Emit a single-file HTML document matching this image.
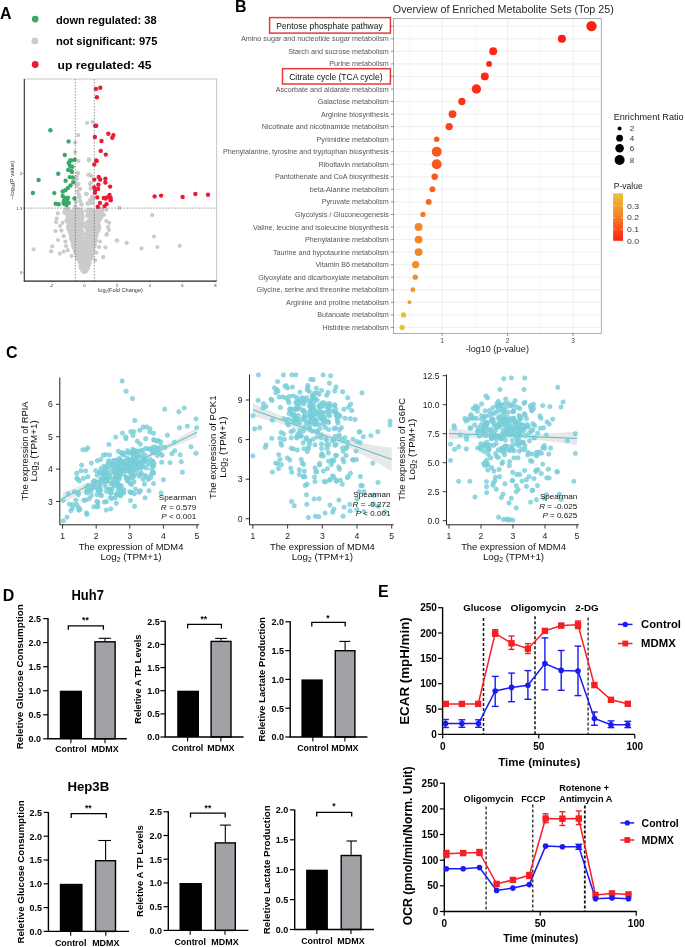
<!DOCTYPE html>
<html><head><meta charset="utf-8"><style>
html,body{margin:0;padding:0;background:#fff;}
svg{display:block;will-change:transform;}
text{font-family:"Liberation Sans",sans-serif;}
</style></head><body>
<svg width="685" height="947" viewBox="0 0 685 947">
<rect x="0" y="0" width="685" height="947" fill="#fff"/>
<text x="0.0" y="18.6" font-size="16" font-weight="bold">A</text>
<circle cx="35.2" cy="19.1" r="3.4" fill="#3ba86a"/>
<circle cx="34.9" cy="40.9" r="3.4" fill="#cbcbcb"/>
<circle cx="35.2" cy="64.5" r="3.4" fill="#ec1b34"/>
<text x="55.9" y="23.5" font-size="11.1" font-weight="bold" textLength="100.7" lengthAdjust="spacingAndGlyphs">down regulated: 38</text>
<text x="55.9" y="45.3" font-size="11.1" font-weight="bold" textLength="101.6" lengthAdjust="spacingAndGlyphs">not significant: 975</text>
<text x="57.6" y="68.8" font-size="11.6" font-weight="bold" textLength="94" lengthAdjust="spacingAndGlyphs">up regulated: 45</text>
<rect x="24.3" y="79.0" width="192.4" height="202.1" fill="none" stroke="#b8b8b8" stroke-width="0.8"/>
<g fill="#cbcbcb"><circle cx="72.6" cy="241.1" r="2.1"/><circle cx="76.0" cy="240.3" r="2.1"/><circle cx="79.6" cy="258.2" r="2.1"/><circle cx="91.4" cy="220.9" r="2.1"/><circle cx="81.0" cy="264.7" r="2.1"/><circle cx="81.3" cy="268.4" r="2.1"/><circle cx="80.3" cy="229.0" r="2.1"/><circle cx="84.5" cy="270.6" r="2.1"/><circle cx="85.1" cy="257.9" r="2.1"/><circle cx="94.7" cy="240.4" r="2.1"/><circle cx="76.5" cy="237.1" r="2.1"/><circle cx="90.3" cy="228.5" r="2.1"/><circle cx="66.1" cy="209.1" r="2.1"/><circle cx="89.9" cy="225.8" r="2.1"/><circle cx="91.6" cy="251.4" r="2.1"/><circle cx="79.0" cy="244.4" r="2.1"/><circle cx="82.6" cy="211.4" r="2.1"/><circle cx="80.4" cy="256.6" r="2.1"/><circle cx="88.3" cy="210.1" r="2.1"/><circle cx="78.7" cy="230.5" r="2.1"/><circle cx="88.9" cy="265.0" r="2.1"/><circle cx="90.4" cy="222.9" r="2.1"/><circle cx="88.6" cy="264.0" r="2.1"/><circle cx="80.9" cy="258.7" r="2.1"/><circle cx="83.3" cy="257.8" r="2.1"/><circle cx="92.0" cy="229.6" r="2.1"/><circle cx="91.7" cy="256.3" r="2.1"/><circle cx="99.4" cy="220.3" r="2.1"/><circle cx="91.0" cy="256.5" r="2.1"/><circle cx="98.6" cy="229.7" r="2.1"/><circle cx="90.5" cy="256.3" r="2.1"/><circle cx="86.1" cy="248.8" r="2.1"/><circle cx="83.2" cy="264.8" r="2.1"/><circle cx="92.1" cy="232.1" r="2.1"/><circle cx="96.7" cy="211.3" r="2.1"/><circle cx="89.4" cy="216.6" r="2.1"/><circle cx="77.2" cy="214.2" r="2.1"/><circle cx="77.4" cy="257.9" r="2.1"/><circle cx="77.6" cy="257.4" r="2.1"/><circle cx="87.5" cy="232.0" r="2.1"/><circle cx="83.7" cy="268.6" r="2.1"/><circle cx="97.5" cy="226.0" r="2.1"/><circle cx="88.5" cy="232.4" r="2.1"/><circle cx="89.9" cy="225.1" r="2.1"/><circle cx="74.6" cy="234.7" r="2.1"/><circle cx="82.0" cy="252.0" r="2.1"/><circle cx="85.8" cy="270.4" r="2.1"/><circle cx="86.3" cy="267.0" r="2.1"/><circle cx="90.8" cy="233.9" r="2.1"/><circle cx="70.3" cy="215.2" r="2.1"/><circle cx="80.4" cy="226.8" r="2.1"/><circle cx="87.3" cy="268.9" r="2.1"/><circle cx="82.7" cy="226.2" r="2.1"/><circle cx="95.7" cy="230.1" r="2.1"/><circle cx="83.2" cy="249.5" r="2.1"/><circle cx="71.3" cy="235.5" r="2.1"/><circle cx="70.0" cy="224.1" r="2.1"/><circle cx="97.9" cy="213.8" r="2.1"/><circle cx="74.2" cy="214.7" r="2.1"/><circle cx="72.7" cy="221.0" r="2.1"/><circle cx="93.8" cy="230.7" r="2.1"/><circle cx="94.3" cy="231.7" r="2.1"/><circle cx="68.0" cy="209.4" r="2.1"/><circle cx="77.1" cy="245.1" r="2.1"/><circle cx="82.5" cy="241.9" r="2.1"/><circle cx="95.2" cy="223.4" r="2.1"/><circle cx="93.6" cy="239.4" r="2.1"/><circle cx="71.9" cy="238.4" r="2.1"/><circle cx="87.7" cy="253.5" r="2.1"/><circle cx="88.8" cy="227.6" r="2.1"/><circle cx="73.8" cy="214.4" r="2.1"/><circle cx="97.4" cy="215.2" r="2.1"/><circle cx="90.5" cy="257.3" r="2.1"/><circle cx="74.7" cy="213.9" r="2.1"/><circle cx="87.9" cy="233.2" r="2.1"/><circle cx="72.7" cy="238.5" r="2.1"/><circle cx="78.0" cy="225.6" r="2.1"/><circle cx="86.8" cy="259.3" r="2.1"/><circle cx="89.6" cy="256.3" r="2.1"/><circle cx="95.1" cy="238.6" r="2.1"/><circle cx="88.4" cy="210.0" r="2.1"/><circle cx="84.5" cy="269.2" r="2.1"/><circle cx="77.5" cy="225.8" r="2.1"/><circle cx="88.8" cy="221.0" r="2.1"/><circle cx="94.5" cy="241.0" r="2.1"/><circle cx="85.4" cy="254.7" r="2.1"/><circle cx="94.4" cy="230.5" r="2.1"/><circle cx="69.0" cy="228.9" r="2.1"/><circle cx="93.0" cy="227.2" r="2.1"/><circle cx="88.1" cy="258.6" r="2.1"/><circle cx="90.5" cy="225.5" r="2.1"/><circle cx="78.2" cy="247.8" r="2.1"/><circle cx="77.0" cy="231.4" r="2.1"/><circle cx="81.0" cy="220.9" r="2.1"/><circle cx="79.5" cy="212.8" r="2.1"/><circle cx="72.7" cy="241.1" r="2.1"/><circle cx="74.3" cy="245.8" r="2.1"/><circle cx="74.3" cy="220.7" r="2.1"/><circle cx="95.7" cy="229.2" r="2.1"/><circle cx="70.2" cy="219.4" r="2.1"/><circle cx="76.6" cy="256.3" r="2.1"/><circle cx="67.1" cy="210.3" r="2.1"/><circle cx="75.5" cy="249.4" r="2.1"/><circle cx="89.7" cy="247.6" r="2.1"/><circle cx="76.3" cy="235.2" r="2.1"/><circle cx="84.4" cy="269.4" r="2.1"/><circle cx="92.0" cy="220.5" r="2.1"/><circle cx="89.0" cy="221.2" r="2.1"/><circle cx="72.5" cy="237.2" r="2.1"/><circle cx="74.9" cy="226.9" r="2.1"/><circle cx="91.0" cy="211.9" r="2.1"/><circle cx="94.4" cy="236.6" r="2.1"/><circle cx="70.7" cy="229.9" r="2.1"/><circle cx="90.9" cy="234.6" r="2.1"/><circle cx="78.4" cy="217.8" r="2.1"/><circle cx="72.9" cy="217.5" r="2.1"/><circle cx="92.8" cy="233.8" r="2.1"/><circle cx="83.2" cy="238.0" r="2.1"/><circle cx="74.0" cy="210.7" r="2.1"/><circle cx="73.9" cy="220.4" r="2.1"/><circle cx="93.9" cy="226.8" r="2.1"/><circle cx="73.2" cy="243.5" r="2.1"/><circle cx="86.3" cy="252.7" r="2.1"/><circle cx="73.1" cy="242.3" r="2.1"/><circle cx="88.1" cy="239.7" r="2.1"/><circle cx="80.9" cy="231.2" r="2.1"/><circle cx="89.7" cy="221.7" r="2.1"/><circle cx="81.3" cy="255.4" r="2.1"/><circle cx="82.6" cy="247.2" r="2.1"/><circle cx="93.9" cy="224.5" r="2.1"/><circle cx="89.4" cy="253.9" r="2.1"/><circle cx="90.3" cy="242.1" r="2.1"/><circle cx="88.6" cy="236.5" r="2.1"/><circle cx="74.9" cy="230.4" r="2.1"/><circle cx="67.6" cy="217.5" r="2.1"/><circle cx="77.4" cy="255.0" r="2.1"/><circle cx="92.3" cy="214.5" r="2.1"/><circle cx="102.4" cy="213.4" r="2.1"/><circle cx="91.0" cy="215.4" r="2.1"/><circle cx="87.9" cy="224.7" r="2.1"/><circle cx="98.5" cy="218.6" r="2.1"/><circle cx="88.6" cy="262.2" r="2.1"/><circle cx="86.2" cy="270.3" r="2.1"/><circle cx="79.9" cy="214.0" r="2.1"/><circle cx="76.6" cy="237.9" r="2.1"/><circle cx="87.3" cy="227.1" r="2.1"/><circle cx="87.6" cy="263.6" r="2.1"/><circle cx="81.2" cy="237.3" r="2.1"/><circle cx="90.4" cy="258.2" r="2.1"/><circle cx="80.0" cy="209.6" r="2.1"/><circle cx="82.5" cy="266.8" r="2.1"/><circle cx="93.6" cy="222.5" r="2.1"/><circle cx="92.9" cy="237.3" r="2.1"/><circle cx="82.8" cy="270.7" r="2.1"/><circle cx="89.8" cy="258.5" r="2.1"/><circle cx="87.4" cy="244.1" r="2.1"/><circle cx="95.9" cy="237.5" r="2.1"/><circle cx="68.2" cy="220.4" r="2.1"/><circle cx="94.1" cy="230.5" r="2.1"/><circle cx="73.1" cy="238.0" r="2.1"/><circle cx="77.5" cy="253.4" r="2.1"/><circle cx="75.4" cy="221.7" r="2.1"/><circle cx="69.6" cy="214.9" r="2.1"/><circle cx="75.5" cy="222.4" r="2.1"/><circle cx="91.5" cy="225.0" r="2.1"/><circle cx="89.9" cy="240.1" r="2.1"/><circle cx="79.2" cy="229.9" r="2.1"/><circle cx="75.3" cy="212.1" r="2.1"/><circle cx="74.6" cy="228.7" r="2.1"/><circle cx="76.4" cy="245.0" r="2.1"/><circle cx="68.0" cy="226.2" r="2.1"/><circle cx="82.6" cy="269.9" r="2.1"/><circle cx="85.5" cy="253.5" r="2.1"/><circle cx="85.7" cy="257.5" r="2.1"/><circle cx="79.2" cy="253.9" r="2.1"/><circle cx="75.8" cy="237.8" r="2.1"/><circle cx="66.6" cy="209.3" r="2.1"/><circle cx="81.0" cy="265.8" r="2.1"/><circle cx="83.9" cy="268.1" r="2.1"/><circle cx="91.4" cy="240.0" r="2.1"/><circle cx="97.7" cy="231.6" r="2.1"/><circle cx="76.5" cy="243.1" r="2.1"/><circle cx="91.8" cy="246.5" r="2.1"/><circle cx="94.7" cy="234.6" r="2.1"/><circle cx="87.6" cy="250.9" r="2.1"/><circle cx="87.1" cy="268.3" r="2.1"/><circle cx="75.3" cy="245.0" r="2.1"/><circle cx="81.1" cy="267.7" r="2.1"/><circle cx="82.5" cy="266.0" r="2.1"/><circle cx="80.1" cy="239.6" r="2.1"/><circle cx="73.7" cy="236.8" r="2.1"/><circle cx="73.5" cy="240.2" r="2.1"/><circle cx="94.1" cy="232.0" r="2.1"/><circle cx="86.3" cy="240.9" r="2.1"/><circle cx="91.4" cy="236.5" r="2.1"/><circle cx="90.1" cy="228.2" r="2.1"/><circle cx="95.6" cy="233.3" r="2.1"/><circle cx="71.0" cy="236.4" r="2.1"/><circle cx="88.2" cy="224.3" r="2.1"/><circle cx="70.8" cy="215.1" r="2.1"/><circle cx="91.9" cy="246.9" r="2.1"/><circle cx="74.3" cy="234.3" r="2.1"/><circle cx="90.4" cy="223.2" r="2.1"/><circle cx="65.7" cy="210.2" r="2.1"/><circle cx="85.7" cy="268.6" r="2.1"/><circle cx="82.3" cy="242.8" r="2.1"/><circle cx="87.1" cy="235.7" r="2.1"/><circle cx="73.0" cy="227.7" r="2.1"/><circle cx="87.7" cy="246.1" r="2.1"/><circle cx="75.2" cy="247.9" r="2.1"/><circle cx="88.1" cy="265.9" r="2.1"/><circle cx="79.6" cy="230.8" r="2.1"/><circle cx="93.9" cy="242.9" r="2.1"/><circle cx="73.4" cy="246.3" r="2.1"/><circle cx="76.4" cy="249.1" r="2.1"/><circle cx="93.3" cy="213.5" r="2.1"/><circle cx="84.1" cy="264.3" r="2.1"/><circle cx="82.1" cy="265.3" r="2.1"/><circle cx="96.7" cy="227.2" r="2.1"/><circle cx="87.6" cy="265.8" r="2.1"/><circle cx="87.9" cy="265.4" r="2.1"/><circle cx="88.5" cy="226.7" r="2.1"/><circle cx="79.6" cy="247.0" r="2.1"/><circle cx="81.1" cy="262.8" r="2.1"/><circle cx="65.9" cy="213.6" r="2.1"/><circle cx="79.6" cy="242.0" r="2.1"/><circle cx="93.3" cy="249.6" r="2.1"/><circle cx="93.0" cy="215.0" r="2.1"/><circle cx="89.5" cy="246.5" r="2.1"/><circle cx="91.2" cy="245.2" r="2.1"/><circle cx="68.6" cy="220.6" r="2.1"/><circle cx="95.1" cy="234.4" r="2.1"/><circle cx="86.9" cy="215.8" r="2.1"/><circle cx="75.7" cy="237.3" r="2.1"/><circle cx="67.0" cy="210.9" r="2.1"/><circle cx="81.2" cy="266.7" r="2.1"/><circle cx="88.0" cy="265.2" r="2.1"/><circle cx="97.0" cy="214.8" r="2.1"/><circle cx="80.2" cy="261.0" r="2.1"/><circle cx="91.0" cy="254.2" r="2.1"/><circle cx="77.8" cy="236.9" r="2.1"/><circle cx="76.8" cy="248.3" r="2.1"/><circle cx="74.2" cy="238.6" r="2.1"/><circle cx="75.9" cy="225.8" r="2.1"/><circle cx="68.0" cy="218.9" r="2.1"/><circle cx="67.8" cy="220.1" r="2.1"/><circle cx="71.9" cy="211.4" r="2.1"/><circle cx="75.7" cy="225.7" r="2.1"/><circle cx="93.2" cy="243.1" r="2.1"/><circle cx="90.2" cy="209.5" r="2.1"/><circle cx="87.2" cy="256.9" r="2.1"/><circle cx="92.6" cy="210.7" r="2.1"/><circle cx="80.0" cy="263.0" r="2.1"/><circle cx="88.1" cy="258.6" r="2.1"/><circle cx="82.7" cy="233.2" r="2.1"/><circle cx="86.0" cy="263.5" r="2.1"/><circle cx="79.0" cy="254.9" r="2.1"/><circle cx="87.3" cy="255.6" r="2.1"/><circle cx="82.0" cy="259.0" r="2.1"/><circle cx="76.4" cy="235.3" r="2.1"/><circle cx="76.1" cy="253.2" r="2.1"/><circle cx="74.2" cy="248.0" r="2.1"/><circle cx="86.3" cy="239.3" r="2.1"/><circle cx="74.4" cy="212.0" r="2.1"/><circle cx="79.3" cy="236.6" r="2.1"/><circle cx="77.0" cy="209.6" r="2.1"/><circle cx="85.5" cy="270.9" r="2.1"/><circle cx="72.1" cy="220.6" r="2.1"/><circle cx="87.0" cy="260.1" r="2.1"/><circle cx="79.3" cy="253.3" r="2.1"/><circle cx="78.7" cy="230.0" r="2.1"/><circle cx="94.9" cy="236.1" r="2.1"/><circle cx="83.5" cy="271.8" r="2.1"/><circle cx="91.1" cy="219.2" r="2.1"/><circle cx="93.4" cy="225.3" r="2.1"/><circle cx="76.0" cy="240.1" r="2.1"/><circle cx="98.8" cy="217.1" r="2.1"/><circle cx="82.5" cy="243.3" r="2.1"/><circle cx="95.1" cy="218.9" r="2.1"/><circle cx="95.4" cy="236.7" r="2.1"/><circle cx="86.0" cy="250.0" r="2.1"/><circle cx="91.5" cy="250.3" r="2.1"/><circle cx="82.6" cy="246.9" r="2.1"/><circle cx="94.8" cy="244.7" r="2.1"/><circle cx="82.6" cy="218.7" r="2.1"/><circle cx="80.9" cy="245.8" r="2.1"/><circle cx="85.9" cy="234.4" r="2.1"/><circle cx="77.6" cy="209.5" r="2.1"/><circle cx="91.3" cy="231.3" r="2.1"/><circle cx="90.2" cy="235.8" r="2.1"/><circle cx="80.6" cy="244.9" r="2.1"/><circle cx="81.6" cy="257.2" r="2.1"/><circle cx="68.6" cy="212.1" r="2.1"/><circle cx="82.9" cy="248.7" r="2.1"/><circle cx="88.8" cy="261.2" r="2.1"/><circle cx="92.3" cy="225.8" r="2.1"/><circle cx="80.7" cy="218.3" r="2.1"/><circle cx="86.1" cy="255.4" r="2.1"/><circle cx="94.6" cy="244.0" r="2.1"/><circle cx="75.9" cy="242.7" r="2.1"/><circle cx="75.8" cy="222.4" r="2.1"/><circle cx="85.4" cy="248.7" r="2.1"/><circle cx="72.9" cy="244.3" r="2.1"/><circle cx="72.1" cy="221.1" r="2.1"/><circle cx="85.6" cy="270.3" r="2.1"/><circle cx="91.5" cy="229.2" r="2.1"/><circle cx="72.7" cy="237.7" r="2.1"/><circle cx="95.8" cy="231.5" r="2.1"/><circle cx="75.4" cy="214.5" r="2.1"/><circle cx="93.9" cy="238.2" r="2.1"/><circle cx="68.3" cy="209.8" r="2.1"/><circle cx="100.6" cy="218.4" r="2.1"/><circle cx="87.3" cy="230.6" r="2.1"/><circle cx="78.1" cy="254.3" r="2.1"/><circle cx="80.0" cy="248.8" r="2.1"/><circle cx="95.9" cy="240.5" r="2.1"/><circle cx="80.9" cy="261.6" r="2.1"/><circle cx="79.2" cy="234.6" r="2.1"/><circle cx="67.5" cy="214.2" r="2.1"/><circle cx="96.3" cy="232.1" r="2.1"/><circle cx="81.5" cy="251.4" r="2.1"/><circle cx="80.3" cy="233.8" r="2.1"/><circle cx="86.2" cy="235.3" r="2.1"/><circle cx="77.6" cy="258.5" r="2.1"/><circle cx="95.2" cy="228.8" r="2.1"/><circle cx="95.0" cy="224.1" r="2.1"/><circle cx="89.9" cy="220.2" r="2.1"/><circle cx="90.2" cy="240.2" r="2.1"/><circle cx="92.6" cy="234.0" r="2.1"/><circle cx="80.9" cy="253.0" r="2.1"/><circle cx="95.0" cy="229.7" r="2.1"/><circle cx="80.4" cy="260.9" r="2.1"/><circle cx="92.7" cy="240.1" r="2.1"/><circle cx="71.2" cy="226.9" r="2.1"/><circle cx="73.0" cy="239.1" r="2.1"/><circle cx="93.8" cy="217.3" r="2.1"/><circle cx="75.6" cy="234.3" r="2.1"/><circle cx="96.2" cy="236.7" r="2.1"/><circle cx="91.8" cy="249.4" r="2.1"/><circle cx="71.2" cy="214.7" r="2.1"/><circle cx="95.2" cy="223.3" r="2.1"/><circle cx="86.7" cy="266.3" r="2.1"/><circle cx="86.4" cy="238.1" r="2.1"/><circle cx="78.7" cy="226.6" r="2.1"/><circle cx="87.6" cy="250.3" r="2.1"/><circle cx="80.4" cy="266.4" r="2.1"/><circle cx="76.1" cy="228.3" r="2.1"/><circle cx="97.7" cy="220.2" r="2.1"/><circle cx="81.7" cy="234.2" r="2.1"/><circle cx="94.8" cy="220.9" r="2.1"/><circle cx="91.4" cy="211.8" r="2.1"/><circle cx="85.8" cy="250.7" r="2.1"/><circle cx="74.6" cy="215.0" r="2.1"/><circle cx="83.4" cy="247.1" r="2.1"/><circle cx="83.6" cy="269.2" r="2.1"/><circle cx="71.2" cy="238.3" r="2.1"/><circle cx="89.3" cy="239.9" r="2.1"/><circle cx="78.2" cy="213.4" r="2.1"/><circle cx="94.2" cy="218.3" r="2.1"/><circle cx="77.5" cy="259.1" r="2.1"/><circle cx="82.7" cy="257.1" r="2.1"/><circle cx="88.6" cy="215.8" r="2.1"/><circle cx="98.7" cy="224.8" r="2.1"/><circle cx="79.7" cy="216.4" r="2.1"/><circle cx="75.5" cy="226.5" r="2.1"/><circle cx="86.2" cy="265.6" r="2.1"/><circle cx="89.2" cy="225.7" r="2.1"/><circle cx="77.5" cy="254.9" r="2.1"/><circle cx="74.3" cy="246.1" r="2.1"/><circle cx="90.1" cy="232.8" r="2.1"/><circle cx="76.6" cy="213.2" r="2.1"/><circle cx="98.5" cy="229.8" r="2.1"/><circle cx="77.0" cy="241.9" r="2.1"/><circle cx="83.5" cy="268.1" r="2.1"/><circle cx="83.4" cy="253.8" r="2.1"/><circle cx="81.5" cy="251.6" r="2.1"/><circle cx="82.1" cy="252.0" r="2.1"/><circle cx="81.8" cy="214.9" r="2.1"/><circle cx="78.4" cy="240.6" r="2.1"/><circle cx="90.2" cy="213.0" r="2.1"/><circle cx="77.9" cy="234.9" r="2.1"/><circle cx="74.8" cy="228.8" r="2.1"/><circle cx="74.4" cy="237.9" r="2.1"/><circle cx="80.8" cy="237.0" r="2.1"/><circle cx="95.6" cy="221.6" r="2.1"/><circle cx="90.9" cy="254.9" r="2.1"/><circle cx="78.2" cy="221.2" r="2.1"/><circle cx="92.5" cy="238.9" r="2.1"/><circle cx="92.7" cy="238.3" r="2.1"/><circle cx="69.2" cy="225.4" r="2.1"/><circle cx="84.9" cy="258.5" r="2.1"/><circle cx="91.1" cy="238.5" r="2.1"/><circle cx="83.5" cy="253.1" r="2.1"/><circle cx="72.0" cy="214.3" r="2.1"/><circle cx="89.0" cy="220.9" r="2.1"/><circle cx="88.3" cy="250.0" r="2.1"/><circle cx="78.8" cy="231.0" r="2.1"/><circle cx="96.1" cy="232.9" r="2.1"/><circle cx="86.0" cy="259.1" r="2.1"/><circle cx="70.7" cy="226.8" r="2.1"/><circle cx="86.2" cy="266.9" r="2.1"/><circle cx="84.0" cy="256.1" r="2.1"/><circle cx="71.3" cy="238.9" r="2.1"/><circle cx="89.2" cy="260.9" r="2.1"/><circle cx="87.4" cy="268.6" r="2.1"/><circle cx="86.7" cy="261.2" r="2.1"/><circle cx="85.9" cy="242.9" r="2.1"/><circle cx="67.9" cy="209.2" r="2.1"/><circle cx="89.3" cy="255.2" r="2.1"/><circle cx="92.0" cy="254.5" r="2.1"/><circle cx="94.4" cy="246.6" r="2.1"/><circle cx="91.6" cy="231.6" r="2.1"/><circle cx="91.1" cy="229.3" r="2.1"/><circle cx="73.4" cy="226.6" r="2.1"/><circle cx="93.4" cy="215.5" r="2.1"/><circle cx="98.5" cy="218.0" r="2.1"/><circle cx="86.5" cy="256.2" r="2.1"/><circle cx="88.7" cy="235.2" r="2.1"/><circle cx="87.4" cy="256.2" r="2.1"/><circle cx="75.3" cy="241.5" r="2.1"/><circle cx="93.1" cy="216.8" r="2.1"/><circle cx="82.8" cy="266.0" r="2.1"/><circle cx="86.9" cy="252.3" r="2.1"/><circle cx="92.3" cy="253.1" r="2.1"/><circle cx="91.8" cy="225.4" r="2.1"/><circle cx="81.8" cy="260.3" r="2.1"/><circle cx="68.0" cy="222.5" r="2.1"/><circle cx="85.7" cy="270.1" r="2.1"/><circle cx="82.8" cy="265.3" r="2.1"/><circle cx="81.7" cy="222.2" r="2.1"/><circle cx="85.9" cy="244.8" r="2.1"/><circle cx="84.3" cy="260.5" r="2.1"/><circle cx="90.2" cy="249.9" r="2.1"/><circle cx="82.7" cy="261.5" r="2.1"/><circle cx="80.1" cy="224.8" r="2.1"/><circle cx="90.0" cy="256.9" r="2.1"/><circle cx="94.1" cy="244.1" r="2.1"/><circle cx="87.8" cy="255.5" r="2.1"/><circle cx="85.1" cy="256.2" r="2.1"/><circle cx="71.2" cy="230.4" r="2.1"/><circle cx="98.3" cy="210.4" r="2.1"/><circle cx="98.0" cy="213.6" r="2.1"/><circle cx="70.0" cy="228.3" r="2.1"/><circle cx="83.4" cy="254.9" r="2.1"/><circle cx="86.3" cy="242.7" r="2.1"/><circle cx="90.6" cy="245.4" r="2.1"/><circle cx="88.7" cy="252.0" r="2.1"/><circle cx="93.2" cy="239.7" r="2.1"/><circle cx="87.9" cy="254.6" r="2.1"/><circle cx="91.8" cy="243.0" r="2.1"/><circle cx="71.8" cy="226.2" r="2.1"/><circle cx="85.7" cy="269.9" r="2.1"/><circle cx="85.0" cy="266.8" r="2.1"/><circle cx="77.1" cy="238.5" r="2.1"/><circle cx="85.5" cy="249.1" r="2.1"/><circle cx="77.7" cy="247.7" r="2.1"/><circle cx="82.3" cy="253.1" r="2.1"/><circle cx="72.0" cy="240.1" r="2.1"/><circle cx="73.9" cy="246.7" r="2.1"/><circle cx="72.1" cy="222.1" r="2.1"/><circle cx="88.7" cy="243.7" r="2.1"/><circle cx="75.4" cy="218.7" r="2.1"/><circle cx="89.3" cy="214.1" r="2.1"/><circle cx="90.3" cy="237.8" r="2.1"/><circle cx="90.6" cy="210.3" r="2.1"/><circle cx="82.1" cy="255.3" r="2.1"/><circle cx="84.1" cy="271.9" r="2.1"/><circle cx="90.1" cy="254.6" r="2.1"/><circle cx="75.4" cy="235.3" r="2.1"/><circle cx="76.2" cy="218.7" r="2.1"/><circle cx="80.3" cy="247.7" r="2.1"/><circle cx="71.8" cy="225.4" r="2.1"/><circle cx="78.7" cy="211.0" r="2.1"/><circle cx="93.6" cy="230.9" r="2.1"/><circle cx="92.6" cy="246.3" r="2.1"/><circle cx="89.1" cy="236.2" r="2.1"/><circle cx="90.1" cy="249.1" r="2.1"/><circle cx="85.2" cy="262.2" r="2.1"/><circle cx="83.8" cy="263.9" r="2.1"/><circle cx="77.4" cy="241.2" r="2.1"/><circle cx="78.5" cy="259.7" r="2.1"/><circle cx="86.6" cy="267.5" r="2.1"/><circle cx="97.2" cy="220.7" r="2.1"/><circle cx="81.0" cy="253.8" r="2.1"/><circle cx="75.4" cy="248.5" r="2.1"/><circle cx="74.8" cy="218.8" r="2.1"/><circle cx="69.9" cy="225.9" r="2.1"/><circle cx="92.6" cy="220.4" r="2.1"/><circle cx="89.0" cy="228.1" r="2.1"/><circle cx="82.6" cy="270.7" r="2.1"/><circle cx="98.5" cy="210.7" r="2.1"/><circle cx="78.7" cy="243.2" r="2.1"/><circle cx="81.3" cy="212.8" r="2.1"/><circle cx="86.9" cy="225.5" r="2.1"/><circle cx="75.0" cy="251.6" r="2.1"/><circle cx="84.9" cy="262.6" r="2.1"/><circle cx="90.7" cy="235.7" r="2.1"/><circle cx="75.8" cy="250.1" r="2.1"/><circle cx="90.5" cy="251.7" r="2.1"/><circle cx="75.8" cy="222.5" r="2.1"/><circle cx="70.5" cy="226.6" r="2.1"/><circle cx="85.6" cy="260.8" r="2.1"/><circle cx="95.2" cy="212.8" r="2.1"/><circle cx="84.9" cy="262.6" r="2.1"/><circle cx="93.7" cy="234.3" r="2.1"/><circle cx="89.3" cy="252.4" r="2.1"/><circle cx="85.9" cy="246.5" r="2.1"/><circle cx="83.1" cy="266.7" r="2.1"/><circle cx="86.9" cy="265.6" r="2.1"/><circle cx="101.4" cy="209.2" r="2.1"/><circle cx="94.7" cy="239.2" r="2.1"/><circle cx="91.2" cy="244.6" r="2.1"/><circle cx="78.4" cy="228.8" r="2.1"/><circle cx="64.3" cy="212.5" r="2.1"/><circle cx="74.8" cy="241.7" r="2.1"/><circle cx="86.1" cy="258.8" r="2.1"/><circle cx="86.9" cy="262.7" r="2.1"/><circle cx="94.1" cy="223.2" r="2.1"/><circle cx="86.4" cy="271.0" r="2.1"/><circle cx="83.0" cy="270.9" r="2.1"/><circle cx="75.4" cy="220.9" r="2.1"/><circle cx="69.6" cy="220.3" r="2.1"/><circle cx="102.4" cy="209.8" r="2.1"/><circle cx="80.5" cy="244.2" r="2.1"/><circle cx="96.3" cy="214.1" r="2.1"/><circle cx="88.0" cy="255.4" r="2.1"/><circle cx="77.0" cy="228.8" r="2.1"/><circle cx="90.2" cy="230.0" r="2.1"/><circle cx="88.5" cy="214.4" r="2.1"/><circle cx="81.5" cy="248.5" r="2.1"/><circle cx="71.6" cy="223.8" r="2.1"/><circle cx="86.0" cy="258.7" r="2.1"/><circle cx="85.3" cy="247.5" r="2.1"/><circle cx="89.8" cy="238.1" r="2.1"/><circle cx="80.2" cy="236.0" r="2.1"/><circle cx="98.6" cy="215.8" r="2.1"/><circle cx="82.0" cy="263.5" r="2.1"/><circle cx="94.1" cy="211.1" r="2.1"/><circle cx="90.5" cy="225.9" r="2.1"/><circle cx="77.5" cy="227.6" r="2.1"/><circle cx="91.2" cy="258.3" r="2.1"/><circle cx="81.8" cy="260.7" r="2.1"/><circle cx="94.4" cy="229.6" r="2.1"/><circle cx="70.8" cy="215.4" r="2.1"/><circle cx="81.7" cy="237.9" r="2.1"/><circle cx="74.1" cy="218.3" r="2.1"/><circle cx="91.7" cy="228.3" r="2.1"/><circle cx="79.3" cy="255.2" r="2.1"/><circle cx="93.2" cy="237.3" r="2.1"/><circle cx="76.2" cy="241.5" r="2.1"/><circle cx="94.9" cy="212.9" r="2.1"/><circle cx="75.5" cy="209.4" r="2.1"/><circle cx="75.8" cy="224.1" r="2.1"/><circle cx="101.6" cy="216.6" r="2.1"/><circle cx="95.1" cy="238.8" r="2.1"/><circle cx="70.7" cy="229.3" r="2.1"/><circle cx="66.4" cy="220.6" r="2.1"/><circle cx="81.5" cy="266.6" r="2.1"/><circle cx="80.0" cy="253.9" r="2.1"/><circle cx="80.4" cy="236.0" r="2.1"/><circle cx="83.4" cy="252.0" r="2.1"/><circle cx="76.2" cy="234.9" r="2.1"/><circle cx="76.9" cy="254.4" r="2.1"/><circle cx="68.0" cy="222.2" r="2.1"/><circle cx="92.4" cy="220.7" r="2.1"/><circle cx="86.6" cy="264.0" r="2.1"/><circle cx="80.0" cy="216.7" r="2.1"/><circle cx="90.4" cy="258.4" r="2.1"/><circle cx="82.0" cy="231.2" r="2.1"/><circle cx="97.8" cy="209.7" r="2.1"/><circle cx="78.4" cy="216.0" r="2.1"/><circle cx="86.2" cy="228.2" r="2.1"/><circle cx="91.2" cy="248.2" r="2.1"/><circle cx="77.6" cy="252.1" r="2.1"/><circle cx="89.5" cy="258.5" r="2.1"/><circle cx="87.1" cy="240.3" r="2.1"/><circle cx="75.0" cy="212.4" r="2.1"/><circle cx="79.0" cy="257.5" r="2.1"/><circle cx="91.2" cy="224.2" r="2.1"/><circle cx="92.1" cy="243.9" r="2.1"/><circle cx="78.5" cy="242.9" r="2.1"/><circle cx="72.3" cy="240.9" r="2.1"/><circle cx="81.1" cy="247.7" r="2.1"/><circle cx="96.5" cy="233.5" r="2.1"/><circle cx="77.6" cy="251.5" r="2.1"/><circle cx="78.5" cy="241.0" r="2.1"/><circle cx="75.0" cy="223.8" r="2.1"/><circle cx="86.0" cy="266.7" r="2.1"/><circle cx="79.7" cy="241.9" r="2.1"/><circle cx="78.6" cy="226.6" r="2.1"/><circle cx="94.5" cy="243.7" r="2.1"/><circle cx="88.0" cy="253.8" r="2.1"/><circle cx="72.1" cy="219.3" r="2.1"/><circle cx="96.4" cy="235.5" r="2.1"/><circle cx="86.6" cy="264.9" r="2.1"/><circle cx="76.8" cy="224.9" r="2.1"/><circle cx="82.1" cy="214.8" r="2.1"/><circle cx="91.2" cy="230.3" r="2.1"/><circle cx="93.1" cy="240.4" r="2.1"/><circle cx="69.5" cy="231.9" r="2.1"/><circle cx="100.8" cy="209.4" r="2.1"/><circle cx="68.5" cy="229.2" r="2.1"/><circle cx="86.5" cy="266.5" r="2.1"/><circle cx="98.8" cy="228.9" r="2.1"/><circle cx="86.1" cy="256.6" r="2.1"/><circle cx="82.7" cy="244.7" r="2.1"/><circle cx="79.9" cy="259.4" r="2.1"/><circle cx="97.8" cy="223.8" r="2.1"/><circle cx="80.6" cy="224.5" r="2.1"/><circle cx="94.9" cy="240.1" r="2.1"/><circle cx="81.9" cy="212.2" r="2.1"/><circle cx="78.0" cy="247.4" r="2.1"/><circle cx="82.6" cy="263.3" r="2.1"/><circle cx="92.5" cy="237.8" r="2.1"/><circle cx="87.8" cy="262.0" r="2.1"/><circle cx="81.4" cy="251.1" r="2.1"/><circle cx="88.1" cy="243.5" r="2.1"/><circle cx="77.7" cy="241.2" r="2.1"/><circle cx="99.5" cy="217.5" r="2.1"/><circle cx="80.7" cy="260.2" r="2.1"/><circle cx="73.9" cy="244.0" r="2.1"/><circle cx="86.9" cy="211.1" r="2.1"/><circle cx="79.5" cy="260.3" r="2.1"/><circle cx="94.0" cy="225.6" r="2.1"/><circle cx="85.6" cy="269.4" r="2.1"/><circle cx="66.3" cy="210.9" r="2.1"/><circle cx="85.1" cy="268.1" r="2.1"/><circle cx="92.3" cy="253.2" r="2.1"/><circle cx="91.3" cy="248.8" r="2.1"/><circle cx="71.8" cy="215.5" r="2.1"/><circle cx="78.0" cy="238.2" r="2.1"/><circle cx="81.3" cy="250.7" r="2.1"/><circle cx="90.2" cy="246.4" r="2.1"/><circle cx="89.9" cy="247.0" r="2.1"/><circle cx="84.3" cy="267.8" r="2.1"/><circle cx="77.7" cy="236.5" r="2.1"/><circle cx="88.0" cy="255.7" r="2.1"/><circle cx="87.6" cy="249.8" r="2.1"/><circle cx="86.3" cy="223.4" r="2.1"/><circle cx="83.9" cy="244.0" r="2.1"/><circle cx="77.5" cy="232.6" r="2.1"/><circle cx="90.2" cy="232.3" r="2.1"/><circle cx="78.1" cy="231.7" r="2.1"/><circle cx="73.7" cy="238.4" r="2.1"/><circle cx="85.8" cy="267.5" r="2.1"/><circle cx="80.0" cy="252.6" r="2.1"/><circle cx="91.6" cy="217.0" r="2.1"/><circle cx="99.1" cy="227.5" r="2.1"/><circle cx="91.9" cy="218.6" r="2.1"/><circle cx="71.3" cy="219.3" r="2.1"/><circle cx="84.4" cy="267.2" r="2.1"/><circle cx="69.8" cy="230.7" r="2.1"/><circle cx="98.0" cy="229.9" r="2.1"/><circle cx="83.0" cy="223.2" r="2.1"/><circle cx="96.1" cy="224.1" r="2.1"/><circle cx="80.5" cy="209.9" r="2.1"/><circle cx="97.5" cy="221.5" r="2.1"/><circle cx="90.0" cy="245.8" r="2.1"/><circle cx="88.7" cy="262.8" r="2.1"/><circle cx="88.1" cy="266.1" r="2.1"/><circle cx="81.0" cy="228.3" r="2.1"/><circle cx="89.7" cy="262.8" r="2.1"/><circle cx="80.0" cy="234.6" r="2.1"/><circle cx="74.1" cy="243.5" r="2.1"/><circle cx="81.5" cy="262.4" r="2.1"/><circle cx="85.9" cy="269.2" r="2.1"/><circle cx="75.0" cy="227.8" r="2.1"/><circle cx="96.8" cy="226.9" r="2.1"/><circle cx="83.5" cy="263.7" r="2.1"/><circle cx="90.7" cy="233.1" r="2.1"/><circle cx="88.7" cy="259.6" r="2.1"/><circle cx="92.7" cy="237.0" r="2.1"/><circle cx="95.8" cy="218.0" r="2.1"/><circle cx="79.0" cy="239.4" r="2.1"/><circle cx="90.3" cy="226.5" r="2.1"/><circle cx="78.2" cy="224.5" r="2.1"/><circle cx="82.8" cy="266.7" r="2.1"/><circle cx="95.1" cy="225.3" r="2.1"/><circle cx="71.0" cy="234.6" r="2.1"/><circle cx="88.5" cy="240.9" r="2.1"/><circle cx="91.2" cy="223.2" r="2.1"/><circle cx="97.5" cy="217.7" r="2.1"/><circle cx="78.2" cy="234.1" r="2.1"/><circle cx="79.3" cy="260.5" r="2.1"/><circle cx="98.2" cy="220.1" r="2.1"/><circle cx="89.0" cy="256.0" r="2.1"/><circle cx="95.8" cy="231.6" r="2.1"/><circle cx="70.5" cy="233.3" r="2.1"/><circle cx="98.8" cy="226.9" r="2.1"/><circle cx="98.1" cy="225.2" r="2.1"/><circle cx="90.3" cy="224.7" r="2.1"/><circle cx="83.9" cy="270.1" r="2.1"/><circle cx="86.5" cy="251.1" r="2.1"/><circle cx="89.3" cy="239.2" r="2.1"/><circle cx="76.1" cy="252.1" r="2.1"/><circle cx="78.6" cy="259.9" r="2.1"/><circle cx="72.5" cy="231.7" r="2.1"/><circle cx="71.3" cy="236.1" r="2.1"/><circle cx="87.3" cy="221.9" r="2.1"/><circle cx="99.6" cy="212.6" r="2.1"/><circle cx="88.1" cy="255.0" r="2.1"/><circle cx="74.3" cy="224.6" r="2.1"/><circle cx="89.1" cy="234.3" r="2.1"/><circle cx="101.9" cy="211.8" r="2.1"/><circle cx="97.9" cy="228.8" r="2.1"/><circle cx="83.8" cy="263.9" r="2.1"/><circle cx="101.4" cy="209.6" r="2.1"/><circle cx="84.3" cy="266.9" r="2.1"/><circle cx="81.7" cy="269.3" r="2.1"/><circle cx="70.8" cy="227.2" r="2.1"/><circle cx="92.2" cy="237.0" r="2.1"/><circle cx="81.5" cy="258.2" r="2.1"/><circle cx="93.8" cy="238.3" r="2.1"/><circle cx="86.5" cy="243.3" r="2.1"/><circle cx="71.5" cy="239.0" r="2.1"/><circle cx="89.9" cy="234.5" r="2.1"/><circle cx="74.5" cy="248.4" r="2.1"/><circle cx="65.0" cy="210.4" r="2.1"/><circle cx="82.3" cy="217.1" r="2.1"/><circle cx="74.6" cy="238.9" r="2.1"/></g>
<circle cx="77.8" cy="172.9" r="2.1" fill="#cbcbcb"/>
<circle cx="76.7" cy="176.6" r="2.1" fill="#cbcbcb"/>
<circle cx="76.4" cy="179.3" r="2.1" fill="#cbcbcb"/>
<circle cx="76.7" cy="183.5" r="2.1" fill="#cbcbcb"/>
<circle cx="76.4" cy="186.1" r="2.1" fill="#cbcbcb"/>
<circle cx="79.9" cy="189.0" r="2.1" fill="#cbcbcb"/>
<circle cx="77.5" cy="191.4" r="2.1" fill="#cbcbcb"/>
<circle cx="78.8" cy="194.6" r="2.1" fill="#cbcbcb"/>
<circle cx="79.4" cy="197.2" r="2.1" fill="#cbcbcb"/>
<circle cx="80.1" cy="200.9" r="2.1" fill="#cbcbcb"/>
<circle cx="81.7" cy="204.6" r="2.1" fill="#cbcbcb"/>
<circle cx="76.2" cy="202.0" r="2.1" fill="#cbcbcb"/>
<circle cx="75.4" cy="206.2" r="2.1" fill="#cbcbcb"/>
<circle cx="88.6" cy="174.8" r="2.1" fill="#cbcbcb"/>
<circle cx="91.2" cy="176.1" r="2.1" fill="#cbcbcb"/>
<circle cx="90.7" cy="183.0" r="2.1" fill="#cbcbcb"/>
<circle cx="90.7" cy="188.2" r="2.1" fill="#cbcbcb"/>
<circle cx="86.2" cy="193.8" r="2.1" fill="#cbcbcb"/>
<circle cx="92.3" cy="196.7" r="2.1" fill="#cbcbcb"/>
<circle cx="90.2" cy="199.8" r="2.1" fill="#cbcbcb"/>
<circle cx="87.5" cy="203.5" r="2.1" fill="#cbcbcb"/>
<circle cx="91.2" cy="203.0" r="2.1" fill="#cbcbcb"/>
<circle cx="92.8" cy="199.3" r="2.1" fill="#cbcbcb"/>
<circle cx="87.2" cy="122.9" r="2.1" fill="#cbcbcb"/>
<circle cx="92.6" cy="122.0" r="2.1" fill="#cbcbcb"/>
<circle cx="78.1" cy="135.1" r="2.1" fill="#cbcbcb"/>
<circle cx="75.2" cy="142.6" r="2.1" fill="#cbcbcb"/>
<circle cx="75.2" cy="152.1" r="2.1" fill="#cbcbcb"/>
<circle cx="88.9" cy="159.4" r="2.1" fill="#cbcbcb"/>
<circle cx="78.4" cy="161.1" r="2.1" fill="#cbcbcb"/>
<circle cx="77.8" cy="172.8" r="2.1" fill="#cbcbcb"/>
<circle cx="88.6" cy="174.7" r="2.1" fill="#cbcbcb"/>
<circle cx="77.6" cy="173.6" r="2.1" fill="#cbcbcb"/>
<circle cx="76.7" cy="178.4" r="2.1" fill="#cbcbcb"/>
<circle cx="76.7" cy="184.5" r="2.1" fill="#cbcbcb"/>
<circle cx="79.7" cy="188.9" r="2.1" fill="#cbcbcb"/>
<circle cx="88.8" cy="160.3" r="2.1" fill="#cbcbcb"/>
<circle cx="90.8" cy="175.5" r="2.1" fill="#cbcbcb"/>
<circle cx="90.8" cy="182.8" r="2.1" fill="#cbcbcb"/>
<circle cx="90.8" cy="188.6" r="2.1" fill="#cbcbcb"/>
<circle cx="86.5" cy="193.9" r="2.1" fill="#cbcbcb"/>
<circle cx="92.6" cy="197.4" r="2.1" fill="#cbcbcb"/>
<circle cx="90.8" cy="200.9" r="2.1" fill="#cbcbcb"/>
<circle cx="87.9" cy="203.2" r="2.1" fill="#cbcbcb"/>
<circle cx="92.6" cy="203.2" r="2.1" fill="#cbcbcb"/>
<circle cx="119.5" cy="207.9" r="2.1" fill="#cbcbcb"/>
<circle cx="78.4" cy="184.0" r="2.1" fill="#cbcbcb"/>
<circle cx="79.9" cy="189.1" r="2.1" fill="#cbcbcb"/>
<circle cx="86.4" cy="194.2" r="2.1" fill="#cbcbcb"/>
<circle cx="79.1" cy="197.1" r="2.1" fill="#cbcbcb"/>
<circle cx="90.0" cy="184.0" r="2.1" fill="#cbcbcb"/>
<circle cx="91.5" cy="188.4" r="2.1" fill="#cbcbcb"/>
<circle cx="88.6" cy="203.7" r="2.1" fill="#cbcbcb"/>
<circle cx="91.5" cy="198.6" r="2.1" fill="#cbcbcb"/>
<circle cx="81.3" cy="204.4" r="2.1" fill="#cbcbcb"/>
<circle cx="55.5" cy="231.0" r="2.1" fill="#cbcbcb"/>
<circle cx="61.4" cy="230.6" r="2.1" fill="#cbcbcb"/>
<circle cx="52.2" cy="246.4" r="2.1" fill="#cbcbcb"/>
<circle cx="51.1" cy="251.4" r="2.1" fill="#cbcbcb"/>
<circle cx="59.8" cy="253.5" r="2.1" fill="#cbcbcb"/>
<circle cx="63.7" cy="251.6" r="2.1" fill="#cbcbcb"/>
<circle cx="67.8" cy="250.2" r="2.1" fill="#cbcbcb"/>
<circle cx="71.6" cy="255.8" r="2.1" fill="#cbcbcb"/>
<circle cx="56.7" cy="218.7" r="2.1" fill="#cbcbcb"/>
<circle cx="56.1" cy="222.2" r="2.1" fill="#cbcbcb"/>
<circle cx="57.8" cy="213.4" r="2.1" fill="#cbcbcb"/>
<circle cx="62.5" cy="222.8" r="2.1" fill="#cbcbcb"/>
<circle cx="63.7" cy="236.2" r="2.1" fill="#cbcbcb"/>
<circle cx="65.4" cy="241.5" r="2.1" fill="#cbcbcb"/>
<circle cx="106.3" cy="209.9" r="2.1" fill="#cbcbcb"/>
<circle cx="106.3" cy="221.0" r="2.1" fill="#cbcbcb"/>
<circle cx="109.2" cy="222.8" r="2.1" fill="#cbcbcb"/>
<circle cx="109.0" cy="230.1" r="2.1" fill="#cbcbcb"/>
<circle cx="106.5" cy="234.7" r="2.1" fill="#cbcbcb"/>
<circle cx="117.2" cy="240.6" r="2.1" fill="#cbcbcb"/>
<circle cx="105.4" cy="247.3" r="2.1" fill="#cbcbcb"/>
<circle cx="103.2" cy="257.2" r="2.1" fill="#cbcbcb"/>
<circle cx="99.3" cy="227.4" r="2.1" fill="#cbcbcb"/>
<circle cx="99.9" cy="241.5" r="2.1" fill="#cbcbcb"/>
<circle cx="96.4" cy="252.6" r="2.1" fill="#cbcbcb"/>
<circle cx="95.2" cy="260.1" r="2.1" fill="#cbcbcb"/>
<circle cx="152.2" cy="215.1" r="2.1" fill="#cbcbcb"/>
<circle cx="154.0" cy="236.5" r="2.1" fill="#cbcbcb"/>
<circle cx="116.7" cy="240.5" r="2.1" fill="#cbcbcb"/>
<circle cx="126.7" cy="242.9" r="2.1" fill="#cbcbcb"/>
<circle cx="141.5" cy="248.4" r="2.1" fill="#cbcbcb"/>
<circle cx="157.4" cy="247.0" r="2.1" fill="#cbcbcb"/>
<circle cx="179.7" cy="245.8" r="2.1" fill="#cbcbcb"/>
<circle cx="33.6" cy="249.3" r="2.1" fill="#cbcbcb"/>
<circle cx="106.9" cy="234.0" r="2.1" fill="#cbcbcb"/>
<circle cx="60.0" cy="226.0" r="2.1" fill="#cbcbcb"/>
<circle cx="58.0" cy="240.0" r="2.1" fill="#cbcbcb"/>
<circle cx="66.0" cy="246.0" r="2.1" fill="#cbcbcb"/>
<circle cx="104.0" cy="215.0" r="2.1" fill="#cbcbcb"/>
<circle cx="108.0" cy="227.0" r="2.1" fill="#cbcbcb"/>
<circle cx="99.0" cy="247.0" r="2.1" fill="#cbcbcb"/>
<circle cx="70.0" cy="214.0" r="2.1" fill="#cbcbcb"/>
<circle cx="100.0" cy="213.0" r="2.1" fill="#cbcbcb"/>
<circle cx="50.4" cy="130.2" r="2.2" fill="#3ba86a"/>
<circle cx="68.6" cy="141.4" r="2.2" fill="#3ba86a"/>
<circle cx="64.8" cy="155.0" r="2.2" fill="#3ba86a"/>
<circle cx="70.1" cy="160.4" r="2.2" fill="#3ba86a"/>
<circle cx="74.7" cy="159.7" r="2.2" fill="#3ba86a"/>
<circle cx="68.9" cy="163.0" r="2.2" fill="#3ba86a"/>
<circle cx="72.3" cy="166.7" r="2.2" fill="#3ba86a"/>
<circle cx="68.2" cy="169.9" r="2.2" fill="#3ba86a"/>
<circle cx="71.1" cy="170.6" r="2.2" fill="#3ba86a"/>
<circle cx="58.2" cy="173.8" r="2.2" fill="#3ba86a"/>
<circle cx="38.6" cy="180.0" r="2.2" fill="#3ba86a"/>
<circle cx="32.9" cy="193.0" r="2.2" fill="#3ba86a"/>
<circle cx="54.3" cy="193.1" r="2.2" fill="#3ba86a"/>
<circle cx="65.6" cy="180.8" r="2.2" fill="#3ba86a"/>
<circle cx="69.7" cy="177.1" r="2.2" fill="#3ba86a"/>
<circle cx="72.7" cy="177.5" r="2.2" fill="#3ba86a"/>
<circle cx="73.2" cy="182.3" r="2.2" fill="#3ba86a"/>
<circle cx="70.5" cy="185.4" r="2.2" fill="#3ba86a"/>
<circle cx="67.9" cy="188.0" r="2.2" fill="#3ba86a"/>
<circle cx="65.3" cy="190.2" r="2.2" fill="#3ba86a"/>
<circle cx="62.7" cy="191.5" r="2.2" fill="#3ba86a"/>
<circle cx="62.7" cy="195.9" r="2.2" fill="#3ba86a"/>
<circle cx="67.9" cy="197.7" r="2.2" fill="#3ba86a"/>
<circle cx="64.0" cy="200.3" r="2.2" fill="#3ba86a"/>
<circle cx="66.2" cy="202.0" r="2.2" fill="#3ba86a"/>
<circle cx="68.8" cy="202.9" r="2.2" fill="#3ba86a"/>
<circle cx="63.5" cy="202.9" r="2.2" fill="#3ba86a"/>
<circle cx="66.6" cy="205.1" r="2.2" fill="#3ba86a"/>
<circle cx="55.7" cy="203.8" r="2.2" fill="#3ba86a"/>
<circle cx="58.7" cy="204.2" r="2.2" fill="#3ba86a"/>
<circle cx="74.5" cy="198.5" r="2.2" fill="#3ba86a"/>
<circle cx="71.4" cy="160.4" r="2.2" fill="#3ba86a"/>
<circle cx="68.8" cy="163.1" r="2.2" fill="#3ba86a"/>
<circle cx="65.0" cy="198.0" r="2.2" fill="#3ba86a"/>
<circle cx="67.0" cy="200.0" r="2.2" fill="#3ba86a"/>
<circle cx="64.5" cy="204.0" r="2.2" fill="#3ba86a"/>
<circle cx="70.0" cy="166.0" r="2.2" fill="#3ba86a"/>
<circle cx="72.0" cy="172.0" r="2.2" fill="#3ba86a"/>
<circle cx="95.9" cy="88.9" r="2.2" fill="#ec1b34"/>
<circle cx="100.3" cy="87.8" r="2.2" fill="#ec1b34"/>
<circle cx="96.9" cy="97.2" r="2.2" fill="#ec1b34"/>
<circle cx="95.2" cy="125.8" r="2.2" fill="#ec1b34"/>
<circle cx="96.2" cy="125.8" r="2.2" fill="#ec1b34"/>
<circle cx="108.3" cy="133.7" r="2.2" fill="#ec1b34"/>
<circle cx="113.4" cy="135.1" r="2.2" fill="#ec1b34"/>
<circle cx="112.3" cy="137.8" r="2.2" fill="#ec1b34"/>
<circle cx="94.9" cy="137.0" r="2.2" fill="#ec1b34"/>
<circle cx="101.5" cy="141.0" r="2.2" fill="#ec1b34"/>
<circle cx="100.7" cy="150.9" r="2.2" fill="#ec1b34"/>
<circle cx="105.8" cy="154.6" r="2.2" fill="#ec1b34"/>
<circle cx="96.2" cy="160.4" r="2.2" fill="#ec1b34"/>
<circle cx="94.3" cy="164.4" r="2.2" fill="#ec1b34"/>
<circle cx="96.7" cy="160.9" r="2.2" fill="#ec1b34"/>
<circle cx="94.3" cy="179.6" r="2.2" fill="#ec1b34"/>
<circle cx="98.7" cy="176.9" r="2.2" fill="#ec1b34"/>
<circle cx="100.2" cy="179.6" r="2.2" fill="#ec1b34"/>
<circle cx="105.4" cy="178.7" r="2.2" fill="#ec1b34"/>
<circle cx="105.4" cy="182.5" r="2.2" fill="#ec1b34"/>
<circle cx="98.4" cy="184.8" r="2.2" fill="#ec1b34"/>
<circle cx="94.3" cy="187.4" r="2.2" fill="#ec1b34"/>
<circle cx="98.1" cy="188.9" r="2.2" fill="#ec1b34"/>
<circle cx="95.2" cy="190.4" r="2.2" fill="#ec1b34"/>
<circle cx="94.9" cy="192.7" r="2.2" fill="#ec1b34"/>
<circle cx="110.1" cy="186.6" r="2.2" fill="#ec1b34"/>
<circle cx="97.3" cy="197.4" r="2.2" fill="#ec1b34"/>
<circle cx="103.7" cy="198.0" r="2.2" fill="#ec1b34"/>
<circle cx="107.2" cy="197.4" r="2.2" fill="#ec1b34"/>
<circle cx="109.5" cy="195.0" r="2.2" fill="#ec1b34"/>
<circle cx="110.7" cy="198.0" r="2.2" fill="#ec1b34"/>
<circle cx="110.7" cy="200.3" r="2.2" fill="#ec1b34"/>
<circle cx="105.4" cy="198.5" r="2.2" fill="#ec1b34"/>
<circle cx="99.9" cy="202.9" r="2.2" fill="#ec1b34"/>
<circle cx="106.6" cy="204.1" r="2.2" fill="#ec1b34"/>
<circle cx="104.6" cy="206.1" r="2.2" fill="#ec1b34"/>
<circle cx="97.8" cy="206.7" r="2.2" fill="#ec1b34"/>
<circle cx="154.6" cy="196.4" r="2.2" fill="#ec1b34"/>
<circle cx="161.1" cy="195.6" r="2.2" fill="#ec1b34"/>
<circle cx="182.6" cy="197.0" r="2.2" fill="#ec1b34"/>
<circle cx="195.4" cy="194.0" r="2.2" fill="#ec1b34"/>
<circle cx="208.0" cy="194.8" r="2.2" fill="#ec1b34"/>
<line x1="75.3" y1="79.0" x2="75.3" y2="281.1" stroke="#666" stroke-width="0.7" stroke-dasharray="1.5,1.5"/>
<line x1="94.3" y1="79.0" x2="94.3" y2="281.1" stroke="#666" stroke-width="0.7" stroke-dasharray="1.5,1.5"/>
<line x1="24.3" y1="208.1" x2="216.7" y2="208.1" stroke="#666" stroke-width="0.7" stroke-dasharray="1.5,1.5"/>
<line x1="24.3" y1="79.0" x2="24.3" y2="281.6" stroke="#333" stroke-width="1.1"/>
<line x1="23.8" y1="281.1" x2="216.7" y2="281.1" stroke="#333" stroke-width="1.1"/>
<line x1="51.6" y1="281.1" x2="51.6" y2="282.3" stroke="#333" stroke-width="0.5"/>
<text x="51.6" y="286.8" font-size="4.2" text-anchor="middle" fill="#333">-2</text>
<line x1="84.3" y1="281.1" x2="84.3" y2="282.3" stroke="#333" stroke-width="0.5"/>
<text x="84.3" y="286.8" font-size="4.2" text-anchor="middle" fill="#333">0</text>
<line x1="117.0" y1="281.1" x2="117.0" y2="282.3" stroke="#333" stroke-width="0.5"/>
<text x="117.0" y="286.8" font-size="4.2" text-anchor="middle" fill="#333">2</text>
<line x1="149.8" y1="281.1" x2="149.8" y2="282.3" stroke="#333" stroke-width="0.5"/>
<text x="149.8" y="286.8" font-size="4.2" text-anchor="middle" fill="#333">4</text>
<line x1="182.5" y1="281.1" x2="182.5" y2="282.3" stroke="#333" stroke-width="0.5"/>
<text x="182.5" y="286.8" font-size="4.2" text-anchor="middle" fill="#333">6</text>
<line x1="215.3" y1="281.1" x2="215.3" y2="282.3" stroke="#333" stroke-width="0.5"/>
<text x="215.3" y="286.8" font-size="4.2" text-anchor="middle" fill="#333">8</text>
<line x1="23.1" y1="272.3" x2="24.3" y2="272.3" stroke="#333" stroke-width="0.5"/>
<text x="22.4" y="273.8" font-size="4.2" text-anchor="end" fill="#333">0</text>
<line x1="23.1" y1="208.1" x2="24.3" y2="208.1" stroke="#333" stroke-width="0.5"/>
<text x="22.4" y="209.6" font-size="4.2" text-anchor="end" fill="#333">1.3</text>
<line x1="23.1" y1="173.5" x2="24.3" y2="173.5" stroke="#333" stroke-width="0.5"/>
<text x="22.4" y="175.0" font-size="4.2" text-anchor="end" fill="#333">2</text>
<text x="120.5" y="292.3" font-size="5.6" text-anchor="middle" fill="#333">log<tspan font-size="3" dy="1">2</tspan><tspan dy="-1">(Fold Change)</tspan></text>
<text x="13.8" y="180.0" font-size="5.9" text-anchor="middle" fill="#333" transform="rotate(-90 13.8 180.0)">−log<tspan font-size="3.4" dy="1">10</tspan><tspan dy="-1">(P value)</tspan></text>
<text x="234.9" y="12.0" font-size="16" font-weight="bold">B</text>
<text x="392.8" y="13.0" font-size="10.5" fill="#2a2a2a" textLength="221" lengthAdjust="spacingAndGlyphs">Overview of Enriched Metabolite Sets (Top 25)</text>
<line x1="409.4" y1="18.4" x2="409.4" y2="333.6" stroke="#f0f0f0" stroke-width="0.5"/>
<line x1="474.9" y1="18.4" x2="474.9" y2="333.6" stroke="#f0f0f0" stroke-width="0.5"/>
<line x1="540.4" y1="18.4" x2="540.4" y2="333.6" stroke="#f0f0f0" stroke-width="0.5"/>
<line x1="442.1" y1="18.4" x2="442.1" y2="333.6" stroke="#e6e6e6" stroke-width="0.7"/>
<line x1="507.6" y1="18.4" x2="507.6" y2="333.6" stroke="#e6e6e6" stroke-width="0.7"/>
<line x1="573.1" y1="18.4" x2="573.1" y2="333.6" stroke="#e6e6e6" stroke-width="0.7"/>
<line x1="393.4" y1="26.2" x2="601.3" y2="26.2" stroke="#e8e8e8" stroke-width="0.7"/>
<line x1="393.4" y1="38.8" x2="601.3" y2="38.8" stroke="#e8e8e8" stroke-width="0.7"/>
<line x1="393.4" y1="51.3" x2="601.3" y2="51.3" stroke="#e8e8e8" stroke-width="0.7"/>
<line x1="393.4" y1="63.9" x2="601.3" y2="63.9" stroke="#e8e8e8" stroke-width="0.7"/>
<line x1="393.4" y1="76.4" x2="601.3" y2="76.4" stroke="#e8e8e8" stroke-width="0.7"/>
<line x1="393.4" y1="89.0" x2="601.3" y2="89.0" stroke="#e8e8e8" stroke-width="0.7"/>
<line x1="393.4" y1="101.5" x2="601.3" y2="101.5" stroke="#e8e8e8" stroke-width="0.7"/>
<line x1="393.4" y1="114.1" x2="601.3" y2="114.1" stroke="#e8e8e8" stroke-width="0.7"/>
<line x1="393.4" y1="126.6" x2="601.3" y2="126.6" stroke="#e8e8e8" stroke-width="0.7"/>
<line x1="393.4" y1="139.2" x2="601.3" y2="139.2" stroke="#e8e8e8" stroke-width="0.7"/>
<line x1="393.4" y1="151.7" x2="601.3" y2="151.7" stroke="#e8e8e8" stroke-width="0.7"/>
<line x1="393.4" y1="164.2" x2="601.3" y2="164.2" stroke="#e8e8e8" stroke-width="0.7"/>
<line x1="393.4" y1="176.8" x2="601.3" y2="176.8" stroke="#e8e8e8" stroke-width="0.7"/>
<line x1="393.4" y1="189.3" x2="601.3" y2="189.3" stroke="#e8e8e8" stroke-width="0.7"/>
<line x1="393.4" y1="201.9" x2="601.3" y2="201.9" stroke="#e8e8e8" stroke-width="0.7"/>
<line x1="393.4" y1="214.4" x2="601.3" y2="214.4" stroke="#e8e8e8" stroke-width="0.7"/>
<line x1="393.4" y1="227.0" x2="601.3" y2="227.0" stroke="#e8e8e8" stroke-width="0.7"/>
<line x1="393.4" y1="239.6" x2="601.3" y2="239.6" stroke="#e8e8e8" stroke-width="0.7"/>
<line x1="393.4" y1="252.1" x2="601.3" y2="252.1" stroke="#e8e8e8" stroke-width="0.7"/>
<line x1="393.4" y1="264.7" x2="601.3" y2="264.7" stroke="#e8e8e8" stroke-width="0.7"/>
<line x1="393.4" y1="277.2" x2="601.3" y2="277.2" stroke="#e8e8e8" stroke-width="0.7"/>
<line x1="393.4" y1="289.8" x2="601.3" y2="289.8" stroke="#e8e8e8" stroke-width="0.7"/>
<line x1="393.4" y1="302.3" x2="601.3" y2="302.3" stroke="#e8e8e8" stroke-width="0.7"/>
<line x1="393.4" y1="314.9" x2="601.3" y2="314.9" stroke="#e8e8e8" stroke-width="0.7"/>
<line x1="393.4" y1="327.4" x2="601.3" y2="327.4" stroke="#e8e8e8" stroke-width="0.7"/>
<rect x="393.4" y="18.4" width="207.9" height="315.2" fill="none" stroke="#9a9a9a" stroke-width="0.8"/>
<line x1="390.8" y1="26.2" x2="393.4" y2="26.2" stroke="#444" stroke-width="0.6"/>
<line x1="390.8" y1="38.8" x2="393.4" y2="38.8" stroke="#444" stroke-width="0.6"/>
<text x="388.8" y="41.2" font-size="7.2" text-anchor="end" fill="#555">Amino sugar and nucleotide sugar metabolism</text>
<line x1="390.8" y1="51.3" x2="393.4" y2="51.3" stroke="#444" stroke-width="0.6"/>
<text x="388.8" y="53.8" font-size="7.2" text-anchor="end" fill="#555">Starch and sucrose metabolism</text>
<line x1="390.8" y1="63.9" x2="393.4" y2="63.9" stroke="#444" stroke-width="0.6"/>
<text x="388.8" y="66.4" font-size="7.2" text-anchor="end" fill="#555">Purine metabolism</text>
<line x1="390.8" y1="76.4" x2="393.4" y2="76.4" stroke="#444" stroke-width="0.6"/>
<line x1="390.8" y1="89.0" x2="393.4" y2="89.0" stroke="#444" stroke-width="0.6"/>
<text x="388.8" y="91.5" font-size="7.2" text-anchor="end" fill="#555">Ascorbate and aldarate metabolism</text>
<line x1="390.8" y1="101.5" x2="393.4" y2="101.5" stroke="#444" stroke-width="0.6"/>
<text x="388.8" y="104.0" font-size="7.2" text-anchor="end" fill="#555">Galactose metabolism</text>
<line x1="390.8" y1="114.1" x2="393.4" y2="114.1" stroke="#444" stroke-width="0.6"/>
<text x="388.8" y="116.6" font-size="7.2" text-anchor="end" fill="#555">Arginine biosynthesis</text>
<line x1="390.8" y1="126.6" x2="393.4" y2="126.6" stroke="#444" stroke-width="0.6"/>
<text x="388.8" y="129.1" font-size="7.2" text-anchor="end" fill="#555">Nicotinate and nicotinamide metabolism</text>
<line x1="390.8" y1="139.2" x2="393.4" y2="139.2" stroke="#444" stroke-width="0.6"/>
<text x="388.8" y="141.7" font-size="7.2" text-anchor="end" fill="#555">Pyrimidine metabolism</text>
<line x1="390.8" y1="151.7" x2="393.4" y2="151.7" stroke="#444" stroke-width="0.6"/>
<text x="388.8" y="154.2" font-size="7.2" text-anchor="end" fill="#555">Phenylalanine, tyrosine and tryptophan biosynthesis</text>
<line x1="390.8" y1="164.2" x2="393.4" y2="164.2" stroke="#444" stroke-width="0.6"/>
<text x="388.8" y="166.8" font-size="7.2" text-anchor="end" fill="#555">Riboflavin metabolism</text>
<line x1="390.8" y1="176.8" x2="393.4" y2="176.8" stroke="#444" stroke-width="0.6"/>
<text x="388.8" y="179.3" font-size="7.2" text-anchor="end" fill="#555">Pantothenate and CoA biosynthesis</text>
<line x1="390.8" y1="189.3" x2="393.4" y2="189.3" stroke="#444" stroke-width="0.6"/>
<text x="388.8" y="191.8" font-size="7.2" text-anchor="end" fill="#555">beta-Alanine metabolism</text>
<line x1="390.8" y1="201.9" x2="393.4" y2="201.9" stroke="#444" stroke-width="0.6"/>
<text x="388.8" y="204.4" font-size="7.2" text-anchor="end" fill="#555">Pyruvate metabolism</text>
<line x1="390.8" y1="214.4" x2="393.4" y2="214.4" stroke="#444" stroke-width="0.6"/>
<text x="388.8" y="216.9" font-size="7.2" text-anchor="end" fill="#555">Glycolysis / Gluconeogenesis</text>
<line x1="390.8" y1="227.0" x2="393.4" y2="227.0" stroke="#444" stroke-width="0.6"/>
<text x="388.8" y="229.5" font-size="7.2" text-anchor="end" fill="#555">Valine, leucine and isoleucine biosynthesis</text>
<line x1="390.8" y1="239.6" x2="393.4" y2="239.6" stroke="#444" stroke-width="0.6"/>
<text x="388.8" y="242.1" font-size="7.2" text-anchor="end" fill="#555">Phenylalanine metabolism</text>
<line x1="390.8" y1="252.1" x2="393.4" y2="252.1" stroke="#444" stroke-width="0.6"/>
<text x="388.8" y="254.6" font-size="7.2" text-anchor="end" fill="#555">Taurine and hypotaurine metabolism</text>
<line x1="390.8" y1="264.7" x2="393.4" y2="264.7" stroke="#444" stroke-width="0.6"/>
<text x="388.8" y="267.2" font-size="7.2" text-anchor="end" fill="#555">Vitamin B6 metabolism</text>
<line x1="390.8" y1="277.2" x2="393.4" y2="277.2" stroke="#444" stroke-width="0.6"/>
<text x="388.8" y="279.7" font-size="7.2" text-anchor="end" fill="#555">Glyoxylate and dicarboxylate metabolism</text>
<line x1="390.8" y1="289.8" x2="393.4" y2="289.8" stroke="#444" stroke-width="0.6"/>
<text x="388.8" y="292.2" font-size="7.2" text-anchor="end" fill="#555">Glycine, serine and threonine metabolism</text>
<line x1="390.8" y1="302.3" x2="393.4" y2="302.3" stroke="#444" stroke-width="0.6"/>
<text x="388.8" y="304.8" font-size="7.2" text-anchor="end" fill="#555">Arginine and proline metabolism</text>
<line x1="390.8" y1="314.9" x2="393.4" y2="314.9" stroke="#444" stroke-width="0.6"/>
<text x="388.8" y="317.4" font-size="7.2" text-anchor="end" fill="#555">Butanoate metabolism</text>
<line x1="390.8" y1="327.4" x2="393.4" y2="327.4" stroke="#444" stroke-width="0.6"/>
<text x="388.8" y="329.9" font-size="7.2" text-anchor="end" fill="#555">Histidine metabolism</text>
<rect x="269.6" y="17.6" width="120.8" height="15.5" fill="none" stroke="#e53a3a" stroke-width="1.5"/>
<text x="382.6" y="28.9" font-size="8.4" text-anchor="end" fill="#111" textLength="106.3" lengthAdjust="spacingAndGlyphs">Pentose phosphate pathway</text>
<rect x="282.5" y="68.7" width="107.9" height="15.3" fill="none" stroke="#e53a3a" stroke-width="1.5"/>
<text x="382.6" y="79.8" font-size="8.4" text-anchor="end" fill="#111" textLength="93.4" lengthAdjust="spacingAndGlyphs">Citrate cycle (TCA cycle)</text>
<circle cx="591.5" cy="26.2" r="5.15" fill="#fe1e14"/>
<circle cx="561.9" cy="38.8" r="4.05" fill="#fe1e14"/>
<circle cx="493.2" cy="51.3" r="3.95" fill="#fd2515"/>
<circle cx="489.1" cy="63.9" r="2.95" fill="#fd2715"/>
<circle cx="484.8" cy="76.4" r="3.95" fill="#fd2815"/>
<circle cx="476.4" cy="89.0" r="4.65" fill="#fd2c16"/>
<circle cx="461.9" cy="101.5" r="3.65" fill="#fb3518"/>
<circle cx="452.5" cy="114.1" r="3.95" fill="#fa3f1a"/>
<circle cx="449.2" cy="126.6" r="3.65" fill="#fa431a"/>
<circle cx="436.7" cy="139.2" r="2.75" fill="#f7581e"/>
<circle cx="436.7" cy="151.7" r="4.95" fill="#f7581e"/>
<circle cx="436.7" cy="164.2" r="4.95" fill="#f7581e"/>
<circle cx="434.7" cy="176.8" r="3.25" fill="#f65c1f"/>
<circle cx="432.4" cy="189.3" r="2.95" fill="#f66120"/>
<circle cx="428.7" cy="201.9" r="2.95" fill="#f46a22"/>
<circle cx="423.0" cy="214.4" r="2.65" fill="#f27c25"/>
<circle cx="418.6" cy="227.0" r="3.95" fill="#f18828"/>
<circle cx="418.6" cy="239.6" r="3.95" fill="#f18828"/>
<circle cx="418.6" cy="252.1" r="3.95" fill="#f18828"/>
<circle cx="415.6" cy="264.7" r="3.65" fill="#f0902a"/>
<circle cx="415.3" cy="277.2" r="2.65" fill="#ef912a"/>
<circle cx="412.9" cy="289.8" r="2.45" fill="#ef992c"/>
<circle cx="409.5" cy="302.3" r="1.95" fill="#eda42f"/>
<circle cx="403.5" cy="314.9" r="2.65" fill="#eabd36"/>
<circle cx="402.2" cy="327.4" r="2.65" fill="#eac337"/>
<line x1="442.1" y1="333.6" x2="442.1" y2="336.0" stroke="#444" stroke-width="0.6"/>
<text x="442.1" y="342.8" font-size="6.6" text-anchor="middle" fill="#4a4a4a">1</text>
<line x1="507.6" y1="333.6" x2="507.6" y2="336.0" stroke="#444" stroke-width="0.6"/>
<text x="507.6" y="342.8" font-size="6.6" text-anchor="middle" fill="#4a4a4a">2</text>
<line x1="573.1" y1="333.6" x2="573.1" y2="336.0" stroke="#444" stroke-width="0.6"/>
<text x="573.1" y="342.8" font-size="6.6" text-anchor="middle" fill="#4a4a4a">3</text>
<text x="497.3" y="351.8" font-size="9" text-anchor="middle" fill="#1a1a1a" textLength="63.2" lengthAdjust="spacingAndGlyphs">-log10 (p-value)</text>
<text x="613.7" y="119.7" font-size="9.1" fill="#1a1a1a" textLength="69.9" lengthAdjust="spacingAndGlyphs">Enrichment Ratio</text>
<circle cx="619.6" cy="128.5" r="2.0" fill="#000"/>
<text x="629.8" y="131.4" font-size="8" fill="#333">2</text>
<circle cx="619.6" cy="138.2" r="3.4" fill="#000"/>
<text x="629.8" y="141.1" font-size="8" fill="#333">4</text>
<circle cx="619.6" cy="148.3" r="4.3" fill="#000"/>
<text x="629.8" y="151.2" font-size="8" fill="#333">6</text>
<circle cx="619.6" cy="160.0" r="5.0" fill="#000"/>
<text x="629.8" y="162.9" font-size="8" fill="#333">8</text>
<text x="613.7" y="188.7" font-size="8.6" fill="#1a1a1a" textLength="29" lengthAdjust="spacingAndGlyphs">P-value</text>
<defs><linearGradient id="pg" x1="0" y1="1" x2="0" y2="0"><stop offset="0" stop-color="rgb(255,30,20)"/><stop offset="0.5" stop-color="rgb(242,128,38)"/><stop offset="1" stop-color="rgb(234,196,56)"/></linearGradient></defs>
<rect x="613.1" y="193.2" width="9.9" height="47.6" fill="url(#pg)"/>
<line x1="613.1" y1="205.9" x2="615.0" y2="205.9" stroke="#fff" stroke-width="0.5"/>
<line x1="621.1" y1="205.9" x2="623.0" y2="205.9" stroke="#fff" stroke-width="0.5"/>
<text x="627.0" y="208.7" font-size="8" fill="#333" textLength="12" lengthAdjust="spacingAndGlyphs">0.3</text>
<line x1="613.1" y1="217.6" x2="615.0" y2="217.6" stroke="#fff" stroke-width="0.5"/>
<line x1="621.1" y1="217.6" x2="623.0" y2="217.6" stroke="#fff" stroke-width="0.5"/>
<text x="627.0" y="220.4" font-size="8" fill="#333" textLength="12" lengthAdjust="spacingAndGlyphs">0.2</text>
<line x1="613.1" y1="229.3" x2="615.0" y2="229.3" stroke="#fff" stroke-width="0.5"/>
<line x1="621.1" y1="229.3" x2="623.0" y2="229.3" stroke="#fff" stroke-width="0.5"/>
<text x="627.0" y="232.1" font-size="8" fill="#333" textLength="12" lengthAdjust="spacingAndGlyphs">0.1</text>
<text x="627.0" y="243.8" font-size="8" fill="#333" textLength="12" lengthAdjust="spacingAndGlyphs">0.0</text>
<text x="5.9" y="357.6" font-size="16" font-weight="bold">C</text>
<polygon points="62.6,492.8 69.3,490.2 76.0,487.5 82.8,484.8 89.5,482.0 96.2,479.1 102.9,476.2 109.6,473.2 116.4,470.0 123.1,466.9 129.8,463.6 136.5,460.3 143.2,456.9 150.0,453.4 156.7,449.9 163.4,446.3 170.1,442.6 176.8,438.9 183.6,435.1 190.3,431.2 197.0,427.3 197.0,437.0 190.3,439.7 183.6,442.5 176.8,445.3 170.1,448.2 163.4,451.1 156.7,454.1 150.0,457.2 143.2,460.4 136.5,463.6 129.8,466.8 123.1,470.2 116.4,473.6 109.6,477.1 102.9,480.7 96.2,484.3 89.5,488.1 82.8,491.9 76.0,495.8 69.3,499.7 62.6,503.8" fill="#bdbdbd" fill-opacity="0.35"/>
<line x1="62.6" y1="498.3" x2="197.0" y2="432.2" stroke="#4dbccb" stroke-width="1"/>
<g fill="#7bcfdb" fill-opacity="0.82" stroke="#6fc8d5" stroke-width="0.5"><circle cx="114.7" cy="468.6" r="2.2"/><circle cx="115.4" cy="480.9" r="2.2"/><circle cx="99.8" cy="486.8" r="2.2"/><circle cx="145.0" cy="455.3" r="2.2"/><circle cx="143.4" cy="458.8" r="2.2"/><circle cx="129.1" cy="466.6" r="2.2"/><circle cx="83.4" cy="478.4" r="2.2"/><circle cx="131.6" cy="460.6" r="2.2"/><circle cx="100.7" cy="490.3" r="2.2"/><circle cx="127.2" cy="471.1" r="2.2"/><circle cx="131.9" cy="477.8" r="2.2"/><circle cx="127.2" cy="464.3" r="2.2"/><circle cx="105.7" cy="454.6" r="2.2"/><circle cx="132.7" cy="449.5" r="2.2"/><circle cx="106.6" cy="491.5" r="2.2"/><circle cx="112.8" cy="478.9" r="2.2"/><circle cx="134.4" cy="463.1" r="2.2"/><circle cx="110.5" cy="493.0" r="2.2"/><circle cx="108.8" cy="460.6" r="2.2"/><circle cx="102.5" cy="478.5" r="2.2"/><circle cx="129.9" cy="491.8" r="2.2"/><circle cx="121.5" cy="453.2" r="2.2"/><circle cx="75.7" cy="500.1" r="2.2"/><circle cx="118.0" cy="487.2" r="2.2"/><circle cx="131.4" cy="469.3" r="2.2"/><circle cx="87.9" cy="476.7" r="2.2"/><circle cx="135.2" cy="452.1" r="2.2"/><circle cx="152.3" cy="452.7" r="2.2"/><circle cx="123.0" cy="492.1" r="2.2"/><circle cx="134.0" cy="476.4" r="2.2"/><circle cx="110.4" cy="497.7" r="2.2"/><circle cx="98.9" cy="492.1" r="2.2"/><circle cx="149.0" cy="490.8" r="2.2"/><circle cx="88.1" cy="485.6" r="2.2"/><circle cx="152.4" cy="449.4" r="2.2"/><circle cx="128.3" cy="481.0" r="2.2"/><circle cx="95.6" cy="470.7" r="2.2"/><circle cx="144.8" cy="459.5" r="2.2"/><circle cx="125.8" cy="464.4" r="2.2"/><circle cx="155.7" cy="447.2" r="2.2"/><circle cx="131.9" cy="459.7" r="2.2"/><circle cx="85.6" cy="470.9" r="2.2"/><circle cx="141.6" cy="455.4" r="2.2"/><circle cx="76.6" cy="504.4" r="2.2"/><circle cx="139.1" cy="492.2" r="2.2"/><circle cx="116.3" cy="460.1" r="2.2"/><circle cx="91.3" cy="463.1" r="2.2"/><circle cx="132.6" cy="470.0" r="2.2"/><circle cx="127.6" cy="460.3" r="2.2"/><circle cx="123.1" cy="454.9" r="2.2"/><circle cx="105.7" cy="487.0" r="2.2"/><circle cx="143.5" cy="462.1" r="2.2"/><circle cx="100.9" cy="468.6" r="2.2"/><circle cx="152.9" cy="464.7" r="2.2"/><circle cx="89.8" cy="490.4" r="2.2"/><circle cx="117.1" cy="479.8" r="2.2"/><circle cx="151.5" cy="474.3" r="2.2"/><circle cx="148.3" cy="479.5" r="2.2"/><circle cx="102.9" cy="472.4" r="2.2"/><circle cx="145.4" cy="448.5" r="2.2"/><circle cx="128.0" cy="467.8" r="2.2"/><circle cx="123.8" cy="463.2" r="2.2"/><circle cx="116.5" cy="471.3" r="2.2"/><circle cx="133.1" cy="467.5" r="2.2"/><circle cx="137.3" cy="456.9" r="2.2"/><circle cx="165.0" cy="447.2" r="2.2"/><circle cx="110.9" cy="483.9" r="2.2"/><circle cx="120.1" cy="459.7" r="2.2"/><circle cx="112.9" cy="471.4" r="2.2"/><circle cx="161.1" cy="493.0" r="2.2"/><circle cx="95.5" cy="481.9" r="2.2"/><circle cx="129.2" cy="465.7" r="2.2"/><circle cx="110.8" cy="468.3" r="2.2"/><circle cx="126.6" cy="478.6" r="2.2"/><circle cx="174.3" cy="442.2" r="2.2"/><circle cx="108.1" cy="481.1" r="2.2"/><circle cx="115.4" cy="477.0" r="2.2"/><circle cx="109.6" cy="463.5" r="2.2"/><circle cx="94.5" cy="487.1" r="2.2"/><circle cx="141.5" cy="450.4" r="2.2"/><circle cx="153.5" cy="483.6" r="2.2"/><circle cx="112.6" cy="482.6" r="2.2"/><circle cx="134.2" cy="450.3" r="2.2"/><circle cx="144.5" cy="484.0" r="2.2"/><circle cx="135.5" cy="489.1" r="2.2"/><circle cx="124.3" cy="453.6" r="2.2"/><circle cx="117.1" cy="472.3" r="2.2"/><circle cx="138.1" cy="463.0" r="2.2"/><circle cx="118.4" cy="451.2" r="2.2"/><circle cx="143.6" cy="466.9" r="2.2"/><circle cx="181.3" cy="461.7" r="2.2"/><circle cx="140.7" cy="467.9" r="2.2"/><circle cx="123.3" cy="461.5" r="2.2"/><circle cx="125.3" cy="461.5" r="2.2"/><circle cx="86.5" cy="513.0" r="2.2"/><circle cx="134.0" cy="481.7" r="2.2"/><circle cx="97.6" cy="507.0" r="2.2"/><circle cx="148.5" cy="448.7" r="2.2"/><circle cx="153.1" cy="472.2" r="2.2"/><circle cx="120.4" cy="491.0" r="2.2"/><circle cx="137.4" cy="441.2" r="2.2"/><circle cx="100.7" cy="459.4" r="2.2"/><circle cx="142.3" cy="465.8" r="2.2"/><circle cx="76.7" cy="473.3" r="2.2"/><circle cx="118.3" cy="483.8" r="2.2"/><circle cx="129.3" cy="463.1" r="2.2"/><circle cx="153.6" cy="473.2" r="2.2"/><circle cx="145.6" cy="438.8" r="2.2"/><circle cx="152.6" cy="460.9" r="2.2"/><circle cx="103.9" cy="466.1" r="2.2"/><circle cx="122.9" cy="470.5" r="2.2"/><circle cx="152.0" cy="462.4" r="2.2"/><circle cx="69.5" cy="504.1" r="2.2"/><circle cx="79.3" cy="481.0" r="2.2"/><circle cx="127.4" cy="479.6" r="2.2"/><circle cx="120.2" cy="461.1" r="2.2"/><circle cx="122.1" cy="452.6" r="2.2"/><circle cx="119.0" cy="458.4" r="2.2"/><circle cx="153.5" cy="433.2" r="2.2"/><circle cx="105.5" cy="467.4" r="2.2"/><circle cx="78.8" cy="510.2" r="2.2"/><circle cx="76.9" cy="478.3" r="2.2"/><circle cx="93.1" cy="487.0" r="2.2"/><circle cx="116.1" cy="476.1" r="2.2"/><circle cx="107.3" cy="476.4" r="2.2"/><circle cx="160.1" cy="453.8" r="2.2"/><circle cx="132.2" cy="452.7" r="2.2"/><circle cx="116.0" cy="494.9" r="2.2"/><circle cx="108.1" cy="463.2" r="2.2"/><circle cx="83.9" cy="500.3" r="2.2"/><circle cx="142.7" cy="450.8" r="2.2"/><circle cx="120.6" cy="461.3" r="2.2"/><circle cx="124.1" cy="489.8" r="2.2"/><circle cx="85.7" cy="500.1" r="2.2"/><circle cx="140.9" cy="472.4" r="2.2"/><circle cx="100.4" cy="495.0" r="2.2"/><circle cx="86.4" cy="491.8" r="2.2"/><circle cx="94.2" cy="480.7" r="2.2"/><circle cx="68.1" cy="493.9" r="2.2"/><circle cx="106.2" cy="510.1" r="2.2"/><circle cx="136.5" cy="470.1" r="2.2"/><circle cx="70.9" cy="510.8" r="2.2"/><circle cx="126.8" cy="477.5" r="2.2"/><circle cx="137.7" cy="453.9" r="2.2"/><circle cx="135.2" cy="461.5" r="2.2"/><circle cx="150.0" cy="449.3" r="2.2"/><circle cx="130.4" cy="500.5" r="2.2"/><circle cx="140.3" cy="444.1" r="2.2"/><circle cx="113.8" cy="484.0" r="2.2"/><circle cx="163.4" cy="479.7" r="2.2"/><circle cx="130.8" cy="431.7" r="2.2"/><circle cx="99.8" cy="473.1" r="2.2"/><circle cx="162.2" cy="455.3" r="2.2"/><circle cx="132.8" cy="453.9" r="2.2"/><circle cx="100.3" cy="484.7" r="2.2"/><circle cx="126.9" cy="457.9" r="2.2"/><circle cx="119.6" cy="477.0" r="2.2"/><circle cx="97.9" cy="490.0" r="2.2"/><circle cx="140.2" cy="462.6" r="2.2"/><circle cx="101.5" cy="495.6" r="2.2"/><circle cx="179.5" cy="427.8" r="2.2"/><circle cx="134.5" cy="506.3" r="2.2"/><circle cx="134.2" cy="459.7" r="2.2"/><circle cx="157.7" cy="449.1" r="2.2"/><circle cx="118.9" cy="466.4" r="2.2"/><circle cx="77.3" cy="478.7" r="2.2"/><circle cx="127.6" cy="480.9" r="2.2"/><circle cx="149.8" cy="431.9" r="2.2"/><circle cx="89.3" cy="498.8" r="2.2"/><circle cx="126.9" cy="467.7" r="2.2"/><circle cx="111.6" cy="492.7" r="2.2"/><circle cx="167.4" cy="435.2" r="2.2"/><circle cx="93.9" cy="506.9" r="2.2"/><circle cx="158.2" cy="440.4" r="2.2"/><circle cx="160.8" cy="441.8" r="2.2"/><circle cx="101.1" cy="479.0" r="2.2"/><circle cx="72.5" cy="508.1" r="2.2"/><circle cx="119.1" cy="466.3" r="2.2"/><circle cx="104.3" cy="483.3" r="2.2"/><circle cx="130.6" cy="463.0" r="2.2"/><circle cx="134.5" cy="463.6" r="2.2"/><circle cx="113.2" cy="465.1" r="2.2"/><circle cx="121.5" cy="485.7" r="2.2"/><circle cx="106.5" cy="480.3" r="2.2"/><circle cx="118.0" cy="472.4" r="2.2"/><circle cx="120.4" cy="471.0" r="2.2"/><circle cx="117.4" cy="494.2" r="2.2"/><circle cx="129.7" cy="453.1" r="2.2"/><circle cx="130.0" cy="471.9" r="2.2"/><circle cx="130.3" cy="483.6" r="2.2"/><circle cx="78.3" cy="493.0" r="2.2"/><circle cx="99.8" cy="472.3" r="2.2"/><circle cx="97.3" cy="460.7" r="2.2"/><circle cx="111.9" cy="498.6" r="2.2"/><circle cx="103.5" cy="473.9" r="2.2"/><circle cx="131.4" cy="465.6" r="2.2"/><circle cx="153.3" cy="447.0" r="2.2"/><circle cx="119.9" cy="464.8" r="2.2"/><circle cx="157.1" cy="441.2" r="2.2"/><circle cx="143.1" cy="479.2" r="2.2"/><circle cx="117.1" cy="464.1" r="2.2"/><circle cx="113.8" cy="460.5" r="2.2"/><circle cx="133.6" cy="453.4" r="2.2"/><circle cx="115.7" cy="437.1" r="2.2"/><circle cx="147.9" cy="463.7" r="2.2"/><circle cx="122.4" cy="433.1" r="2.2"/><circle cx="112.8" cy="464.0" r="2.2"/><circle cx="142.1" cy="463.1" r="2.2"/><circle cx="94.5" cy="483.3" r="2.2"/><circle cx="128.4" cy="452.6" r="2.2"/><circle cx="137.8" cy="464.9" r="2.2"/><circle cx="139.3" cy="456.3" r="2.2"/><circle cx="125.0" cy="470.6" r="2.2"/><circle cx="115.0" cy="465.8" r="2.2"/><circle cx="97.0" cy="494.5" r="2.2"/><circle cx="120.5" cy="495.9" r="2.2"/><circle cx="110.7" cy="508.9" r="2.2"/><circle cx="105.2" cy="472.3" r="2.2"/><circle cx="133.0" cy="468.4" r="2.2"/><circle cx="115.2" cy="497.7" r="2.2"/><circle cx="160.9" cy="446.2" r="2.2"/><circle cx="144.6" cy="475.4" r="2.2"/><circle cx="116.3" cy="503.3" r="2.2"/><circle cx="137.7" cy="451.1" r="2.2"/><circle cx="78.3" cy="494.7" r="2.2"/><circle cx="134.4" cy="493.7" r="2.2"/><circle cx="79.9" cy="509.4" r="2.2"/><circle cx="106.4" cy="501.7" r="2.2"/><circle cx="121.1" cy="469.5" r="2.2"/><circle cx="134.5" cy="456.2" r="2.2"/><circle cx="153.7" cy="439.8" r="2.2"/><circle cx="91.3" cy="495.4" r="2.2"/><circle cx="96.9" cy="501.4" r="2.2"/><circle cx="118.6" cy="474.4" r="2.2"/><circle cx="131.3" cy="492.6" r="2.2"/><circle cx="92.9" cy="487.2" r="2.2"/><circle cx="116.0" cy="480.5" r="2.2"/><circle cx="119.0" cy="485.9" r="2.2"/><circle cx="135.9" cy="460.7" r="2.2"/><circle cx="118.4" cy="484.8" r="2.2"/><circle cx="98.6" cy="483.6" r="2.2"/><circle cx="87.0" cy="486.7" r="2.2"/><circle cx="123.7" cy="493.0" r="2.2"/><circle cx="114.8" cy="481.1" r="2.2"/><circle cx="130.6" cy="459.4" r="2.2"/><circle cx="119.6" cy="487.0" r="2.2"/><circle cx="117.2" cy="476.2" r="2.2"/><circle cx="136.7" cy="461.3" r="2.2"/><circle cx="104.4" cy="502.0" r="2.2"/><circle cx="112.1" cy="488.9" r="2.2"/><circle cx="95.7" cy="487.3" r="2.2"/><circle cx="109.5" cy="477.3" r="2.2"/><circle cx="132.0" cy="474.3" r="2.2"/><circle cx="171.9" cy="453.7" r="2.2"/><circle cx="144.8" cy="460.0" r="2.2"/><circle cx="145.1" cy="497.9" r="2.2"/><circle cx="103.7" cy="477.9" r="2.2"/><circle cx="133.8" cy="431.6" r="2.2"/><circle cx="127.5" cy="450.7" r="2.2"/><circle cx="137.4" cy="451.0" r="2.2"/><circle cx="131.7" cy="470.6" r="2.2"/><circle cx="131.7" cy="484.6" r="2.2"/><circle cx="146.6" cy="476.5" r="2.2"/><circle cx="125.9" cy="438.7" r="2.2"/><circle cx="115.4" cy="475.7" r="2.2"/><circle cx="146.2" cy="460.8" r="2.2"/><circle cx="102.5" cy="478.3" r="2.2"/><circle cx="133.3" cy="456.6" r="2.2"/><circle cx="103.3" cy="455.2" r="2.2"/><circle cx="157.4" cy="455.5" r="2.2"/><circle cx="126.3" cy="477.3" r="2.2"/><circle cx="151.8" cy="469.3" r="2.2"/><circle cx="135.3" cy="473.7" r="2.2"/><circle cx="105.0" cy="470.1" r="2.2"/><circle cx="150.0" cy="459.5" r="2.2"/><circle cx="105.4" cy="468.5" r="2.2"/><circle cx="119.3" cy="469.4" r="2.2"/><circle cx="154.2" cy="440.1" r="2.2"/><circle cx="108.9" cy="444.4" r="2.2"/><circle cx="120.5" cy="461.6" r="2.2"/><circle cx="106.0" cy="481.2" r="2.2"/><circle cx="81.6" cy="465.1" r="2.2"/><circle cx="150.7" cy="477.5" r="2.2"/><circle cx="87.0" cy="514.4" r="2.2"/><circle cx="146.5" cy="468.1" r="2.2"/><circle cx="119.0" cy="479.0" r="2.2"/><circle cx="117.7" cy="491.5" r="2.2"/><circle cx="120.9" cy="495.3" r="2.2"/><circle cx="118.8" cy="469.7" r="2.2"/><circle cx="130.8" cy="472.2" r="2.2"/><circle cx="100.4" cy="480.9" r="2.2"/><circle cx="109.6" cy="455.0" r="2.2"/><circle cx="137.4" cy="467.2" r="2.2"/><circle cx="109.9" cy="489.4" r="2.2"/><circle cx="99.6" cy="489.0" r="2.2"/><circle cx="126.9" cy="462.6" r="2.2"/><circle cx="133.0" cy="435.6" r="2.2"/><circle cx="104.8" cy="481.0" r="2.2"/><circle cx="182.4" cy="472.2" r="2.2"/><circle cx="108.8" cy="476.6" r="2.2"/><circle cx="123.8" cy="465.8" r="2.2"/><circle cx="115.1" cy="470.6" r="2.2"/><circle cx="121.6" cy="461.3" r="2.2"/><circle cx="78.4" cy="507.3" r="2.2"/><circle cx="120.3" cy="489.4" r="2.2"/><circle cx="97.2" cy="475.2" r="2.2"/><circle cx="106.0" cy="470.9" r="2.2"/><circle cx="136.9" cy="461.0" r="2.2"/><circle cx="131.7" cy="469.8" r="2.2"/><circle cx="89.1" cy="489.2" r="2.2"/><circle cx="130.5" cy="476.8" r="2.2"/><circle cx="118.2" cy="463.3" r="2.2"/><circle cx="100.9" cy="473.3" r="2.2"/><circle cx="161.7" cy="462.2" r="2.2"/><circle cx="123.6" cy="474.4" r="2.2"/><circle cx="154.5" cy="452.4" r="2.2"/><circle cx="140.3" cy="474.5" r="2.2"/><circle cx="120.0" cy="474.0" r="2.2"/><circle cx="81.0" cy="470.7" r="2.2"/><circle cx="140.3" cy="490.7" r="2.2"/><circle cx="136.9" cy="467.7" r="2.2"/><circle cx="130.3" cy="463.3" r="2.2"/><circle cx="87.2" cy="492.9" r="2.2"/><circle cx="153.5" cy="466.4" r="2.2"/><circle cx="97.7" cy="505.3" r="2.2"/><circle cx="93.3" cy="481.6" r="2.2"/><circle cx="157.9" cy="449.0" r="2.2"/><circle cx="125.8" cy="437.0" r="2.2"/><circle cx="108.9" cy="489.5" r="2.2"/><circle cx="132.1" cy="459.6" r="2.2"/><circle cx="97.9" cy="502.3" r="2.2"/><circle cx="126.8" cy="466.8" r="2.2"/><circle cx="91.4" cy="490.7" r="2.2"/><circle cx="108.4" cy="472.4" r="2.2"/><circle cx="117.8" cy="476.2" r="2.2"/><circle cx="112.6" cy="461.4" r="2.2"/><circle cx="151.2" cy="464.4" r="2.2"/><circle cx="139.2" cy="476.1" r="2.2"/><circle cx="122.0" cy="461.4" r="2.2"/><circle cx="154.0" cy="463.3" r="2.2"/><circle cx="118.7" cy="471.4" r="2.2"/><circle cx="87.2" cy="489.4" r="2.2"/><circle cx="105.4" cy="475.2" r="2.2"/><circle cx="121.2" cy="469.3" r="2.2"/><circle cx="108.2" cy="466.0" r="2.2"/><circle cx="114.3" cy="485.8" r="2.2"/><circle cx="131.0" cy="492.4" r="2.2"/><circle cx="105.4" cy="481.2" r="2.2"/><circle cx="139.2" cy="467.0" r="2.2"/><circle cx="127.2" cy="480.3" r="2.2"/><circle cx="122.1" cy="381.0" r="2.2"/><circle cx="126.1" cy="391.3" r="2.2"/><circle cx="132.5" cy="398.5" r="2.2"/><circle cx="164.7" cy="409.2" r="2.2"/><circle cx="178.9" cy="411.8" r="2.2"/><circle cx="184.2" cy="407.9" r="2.2"/><circle cx="196.0" cy="418.9" r="2.2"/><circle cx="196.7" cy="427.6" r="2.2"/><circle cx="187.3" cy="426.3" r="2.2"/><circle cx="196.0" cy="453.2" r="2.2"/><circle cx="191.0" cy="446.7" r="2.2"/><circle cx="174.8" cy="450.6" r="2.2"/><circle cx="180.2" cy="454.8" r="2.2"/><circle cx="170.1" cy="462.6" r="2.2"/><circle cx="63.3" cy="520.9" r="2.2"/><circle cx="67.0" cy="517.1" r="2.2"/><circle cx="62.9" cy="500.2" r="2.2"/><circle cx="72.7" cy="504.7" r="2.2"/><circle cx="74.4" cy="491.8" r="2.2"/><circle cx="82.8" cy="449.7" r="2.2"/><circle cx="87.8" cy="448.0" r="2.2"/><circle cx="86.1" cy="449.7" r="2.2"/><circle cx="143.2" cy="427.0" r="2.2"/><circle cx="150.0" cy="428.6" r="2.2"/><circle cx="146.6" cy="427.0" r="2.2"/><circle cx="139.9" cy="430.2" r="2.2"/><circle cx="134.8" cy="420.5" r="2.2"/></g>
<path d="M59.8,377.5V524.8H199.2" fill="none" stroke="#222" stroke-width="1"/>
<line x1="62.6" y1="524.8" x2="62.6" y2="528.6" stroke="#222" stroke-width="0.9"/>
<text x="62.6" y="538.7" font-size="8.6" text-anchor="middle" fill="#222">1</text>
<line x1="96.2" y1="524.8" x2="96.2" y2="528.6" stroke="#222" stroke-width="0.9"/>
<text x="96.2" y="538.7" font-size="8.6" text-anchor="middle" fill="#222">2</text>
<line x1="129.8" y1="524.8" x2="129.8" y2="528.6" stroke="#222" stroke-width="0.9"/>
<text x="129.8" y="538.7" font-size="8.6" text-anchor="middle" fill="#222">3</text>
<line x1="163.4" y1="524.8" x2="163.4" y2="528.6" stroke="#222" stroke-width="0.9"/>
<text x="163.4" y="538.7" font-size="8.6" text-anchor="middle" fill="#222">4</text>
<line x1="197.0" y1="524.8" x2="197.0" y2="528.6" stroke="#222" stroke-width="0.9"/>
<text x="197.0" y="538.7" font-size="8.6" text-anchor="middle" fill="#222">5</text>
<line x1="56.0" y1="501.5" x2="59.8" y2="501.5" stroke="#222" stroke-width="0.9"/>
<text x="52.8" y="504.6" font-size="8.6" text-anchor="end" fill="#222">3</text>
<line x1="56.0" y1="469.1" x2="59.8" y2="469.1" stroke="#222" stroke-width="0.9"/>
<text x="52.8" y="472.2" font-size="8.6" text-anchor="end" fill="#222">4</text>
<line x1="56.0" y1="436.7" x2="59.8" y2="436.7" stroke="#222" stroke-width="0.9"/>
<text x="52.8" y="439.8" font-size="8.6" text-anchor="end" fill="#222">5</text>
<line x1="56.0" y1="404.3" x2="59.8" y2="404.3" stroke="#222" stroke-width="0.9"/>
<text x="52.8" y="407.4" font-size="8.6" text-anchor="end" fill="#222">6</text>
<text x="131.0" y="550.2" font-size="9.4" text-anchor="middle" fill="#111">The expression of MDM4</text>
<text x="131.0" y="559.6" font-size="9.8" text-anchor="middle" fill="#111">Log<tspan font-size="6.8" dy="2">2</tspan><tspan dy="-2"> (TPM+1)</tspan></text>
<text x="27.8" y="450.9" font-size="9.4" text-anchor="middle" fill="#111" transform="rotate(-90 27.8 450.9)">The expression of RPIA</text>
<text x="37.4" y="450.9" font-size="9.8" text-anchor="middle" fill="#111" transform="rotate(-90 37.4 450.9)">Log<tspan font-size="6.8" dy="2">2</tspan><tspan dy="-2"> (TPM+1)</tspan></text>
<text x="196.2" y="499.8" font-size="8.1" text-anchor="end" fill="#111">Spearman</text>
<text x="196.2" y="509.5" font-size="8.1" text-anchor="end" fill="#111"><tspan font-style="italic">R</tspan> = 0.579</text>
<text x="196.2" y="518.9" font-size="8.1" text-anchor="end" fill="#111"><tspan font-style="italic">P</tspan> &lt; 0.001</text>
<polygon points="252.9,403.2 259.8,406.4 266.8,409.6 273.7,412.6 280.7,415.6 287.6,418.5 294.5,421.4 301.5,424.1 308.4,426.8 315.4,429.4 322.3,431.9 329.2,434.3 336.2,436.5 343.1,438.6 350.1,440.4 357.0,442.0 363.9,443.5 370.9,444.8 377.8,445.9 384.8,446.8 391.7,447.5 391.7,471.3 384.8,467.0 377.8,463.0 370.9,459.1 363.9,455.4 357.0,451.9 350.1,448.6 343.1,445.5 336.2,442.6 329.2,439.8 322.3,437.2 315.4,434.8 308.4,432.4 301.5,430.1 294.5,427.9 287.6,425.8 280.7,423.8 273.7,421.8 266.8,419.9 259.8,418.1 252.9,416.4" fill="#bdbdbd" fill-opacity="0.35"/>
<line x1="252.9" y1="409.8" x2="391.7" y2="459.4" stroke="#4dbccb" stroke-width="1"/>
<g fill="#7bcfdb" fill-opacity="0.82" stroke="#6fc8d5" stroke-width="0.5"><circle cx="316.4" cy="388.2" r="2.2"/><circle cx="295.9" cy="374.9" r="2.2"/><circle cx="296.8" cy="409.4" r="2.2"/><circle cx="313.8" cy="397.3" r="2.2"/><circle cx="284.4" cy="439.2" r="2.2"/><circle cx="322.8" cy="402.5" r="2.2"/><circle cx="323.1" cy="374.9" r="2.2"/><circle cx="314.4" cy="409.2" r="2.2"/><circle cx="329.5" cy="410.3" r="2.2"/><circle cx="344.8" cy="437.6" r="2.2"/><circle cx="302.3" cy="463.0" r="2.2"/><circle cx="327.1" cy="421.1" r="2.2"/><circle cx="329.4" cy="383.2" r="2.2"/><circle cx="310.0" cy="416.1" r="2.2"/><circle cx="299.8" cy="423.0" r="2.2"/><circle cx="297.0" cy="400.0" r="2.2"/><circle cx="310.9" cy="411.3" r="2.2"/><circle cx="306.5" cy="397.6" r="2.2"/><circle cx="320.4" cy="416.3" r="2.2"/><circle cx="324.0" cy="417.1" r="2.2"/><circle cx="286.2" cy="385.6" r="2.2"/><circle cx="319.8" cy="428.6" r="2.2"/><circle cx="332.6" cy="411.2" r="2.2"/><circle cx="277.6" cy="381.6" r="2.2"/><circle cx="317.1" cy="400.0" r="2.2"/><circle cx="314.3" cy="415.3" r="2.2"/><circle cx="277.9" cy="391.3" r="2.2"/><circle cx="310.8" cy="416.7" r="2.2"/><circle cx="317.5" cy="412.4" r="2.2"/><circle cx="324.2" cy="420.5" r="2.2"/><circle cx="309.4" cy="444.5" r="2.2"/><circle cx="301.3" cy="400.3" r="2.2"/><circle cx="338.0" cy="423.0" r="2.2"/><circle cx="307.6" cy="387.7" r="2.2"/><circle cx="303.4" cy="399.8" r="2.2"/><circle cx="345.1" cy="418.3" r="2.2"/><circle cx="335.7" cy="427.9" r="2.2"/><circle cx="314.5" cy="414.2" r="2.2"/><circle cx="312.5" cy="395.5" r="2.2"/><circle cx="359.9" cy="431.8" r="2.2"/><circle cx="298.2" cy="402.4" r="2.2"/><circle cx="288.2" cy="400.5" r="2.2"/><circle cx="322.1" cy="418.7" r="2.2"/><circle cx="321.2" cy="437.8" r="2.2"/><circle cx="326.0" cy="438.7" r="2.2"/><circle cx="295.7" cy="417.9" r="2.2"/><circle cx="301.8" cy="397.6" r="2.2"/><circle cx="311.9" cy="418.6" r="2.2"/><circle cx="321.5" cy="390.4" r="2.2"/><circle cx="310.3" cy="406.7" r="2.2"/><circle cx="336.0" cy="413.1" r="2.2"/><circle cx="283.4" cy="374.9" r="2.2"/><circle cx="356.1" cy="451.1" r="2.2"/><circle cx="309.3" cy="405.7" r="2.2"/><circle cx="330.3" cy="405.9" r="2.2"/><circle cx="304.5" cy="427.1" r="2.2"/><circle cx="312.3" cy="396.9" r="2.2"/><circle cx="287.5" cy="423.5" r="2.2"/><circle cx="309.6" cy="441.5" r="2.2"/><circle cx="304.7" cy="417.8" r="2.2"/><circle cx="319.5" cy="424.6" r="2.2"/><circle cx="291.8" cy="414.7" r="2.2"/><circle cx="309.1" cy="422.1" r="2.2"/><circle cx="310.4" cy="400.9" r="2.2"/><circle cx="334.8" cy="391.0" r="2.2"/><circle cx="293.8" cy="415.5" r="2.2"/><circle cx="258.5" cy="374.9" r="2.2"/><circle cx="295.1" cy="409.8" r="2.2"/><circle cx="321.0" cy="434.9" r="2.2"/><circle cx="319.8" cy="414.4" r="2.2"/><circle cx="272.1" cy="400.5" r="2.2"/><circle cx="335.0" cy="445.3" r="2.2"/><circle cx="327.0" cy="412.2" r="2.2"/><circle cx="320.0" cy="407.4" r="2.2"/><circle cx="337.3" cy="420.8" r="2.2"/><circle cx="328.3" cy="421.9" r="2.2"/><circle cx="325.3" cy="427.4" r="2.2"/><circle cx="307.9" cy="385.5" r="2.2"/><circle cx="319.4" cy="416.4" r="2.2"/><circle cx="286.3" cy="419.7" r="2.2"/><circle cx="314.2" cy="398.7" r="2.2"/><circle cx="319.0" cy="405.9" r="2.2"/><circle cx="309.3" cy="391.5" r="2.2"/><circle cx="302.0" cy="419.0" r="2.2"/><circle cx="328.6" cy="414.8" r="2.2"/><circle cx="304.4" cy="419.9" r="2.2"/><circle cx="304.8" cy="401.7" r="2.2"/><circle cx="317.5" cy="432.0" r="2.2"/><circle cx="319.0" cy="411.2" r="2.2"/><circle cx="289.3" cy="396.5" r="2.2"/><circle cx="304.3" cy="416.2" r="2.2"/><circle cx="326.7" cy="395.3" r="2.2"/><circle cx="295.8" cy="402.8" r="2.2"/><circle cx="291.9" cy="374.9" r="2.2"/><circle cx="299.9" cy="392.1" r="2.2"/><circle cx="296.7" cy="397.3" r="2.2"/><circle cx="356.4" cy="459.6" r="2.2"/><circle cx="301.1" cy="402.9" r="2.2"/><circle cx="308.2" cy="422.0" r="2.2"/><circle cx="355.0" cy="419.5" r="2.2"/><circle cx="275.9" cy="392.7" r="2.2"/><circle cx="274.3" cy="387.9" r="2.2"/><circle cx="298.1" cy="407.7" r="2.2"/><circle cx="336.4" cy="415.4" r="2.2"/><circle cx="281.2" cy="432.4" r="2.2"/><circle cx="334.8" cy="405.7" r="2.2"/><circle cx="293.2" cy="395.9" r="2.2"/><circle cx="320.5" cy="404.3" r="2.2"/><circle cx="263.1" cy="407.9" r="2.2"/><circle cx="328.9" cy="404.6" r="2.2"/><circle cx="328.5" cy="453.0" r="2.2"/><circle cx="313.7" cy="405.4" r="2.2"/><circle cx="363.3" cy="436.8" r="2.2"/><circle cx="303.3" cy="410.4" r="2.2"/><circle cx="328.6" cy="422.4" r="2.2"/><circle cx="334.0" cy="428.7" r="2.2"/><circle cx="315.7" cy="421.3" r="2.2"/><circle cx="313.4" cy="423.3" r="2.2"/><circle cx="276.9" cy="389.3" r="2.2"/><circle cx="316.5" cy="421.9" r="2.2"/><circle cx="314.3" cy="398.0" r="2.2"/><circle cx="289.8" cy="410.0" r="2.2"/><circle cx="321.4" cy="406.4" r="2.2"/><circle cx="303.2" cy="442.9" r="2.2"/><circle cx="336.0" cy="412.1" r="2.2"/><circle cx="310.4" cy="416.5" r="2.2"/><circle cx="315.6" cy="419.7" r="2.2"/><circle cx="288.8" cy="419.4" r="2.2"/><circle cx="297.7" cy="419.1" r="2.2"/><circle cx="286.0" cy="398.0" r="2.2"/><circle cx="282.9" cy="397.0" r="2.2"/><circle cx="289.0" cy="402.8" r="2.2"/><circle cx="338.8" cy="414.6" r="2.2"/><circle cx="294.9" cy="408.6" r="2.2"/><circle cx="313.2" cy="439.1" r="2.2"/><circle cx="297.5" cy="407.3" r="2.2"/><circle cx="300.4" cy="409.1" r="2.2"/><circle cx="325.4" cy="403.5" r="2.2"/><circle cx="329.0" cy="406.9" r="2.2"/><circle cx="304.2" cy="411.3" r="2.2"/><circle cx="304.5" cy="415.9" r="2.2"/><circle cx="306.4" cy="437.7" r="2.2"/><circle cx="303.2" cy="411.3" r="2.2"/><circle cx="289.9" cy="408.7" r="2.2"/><circle cx="320.9" cy="416.7" r="2.2"/><circle cx="353.4" cy="460.0" r="2.2"/><circle cx="305.9" cy="439.1" r="2.2"/><circle cx="330.6" cy="375.8" r="2.2"/><circle cx="258.1" cy="400.4" r="2.2"/><circle cx="321.0" cy="418.9" r="2.2"/><circle cx="321.6" cy="448.4" r="2.2"/><circle cx="327.9" cy="409.9" r="2.2"/><circle cx="310.6" cy="421.2" r="2.2"/><circle cx="323.4" cy="422.1" r="2.2"/><circle cx="314.8" cy="420.8" r="2.2"/><circle cx="263.4" cy="403.8" r="2.2"/><circle cx="314.4" cy="401.6" r="2.2"/><circle cx="291.9" cy="409.2" r="2.2"/><circle cx="323.0" cy="412.4" r="2.2"/><circle cx="336.0" cy="386.9" r="2.2"/><circle cx="291.2" cy="437.8" r="2.2"/><circle cx="328.0" cy="392.4" r="2.2"/><circle cx="329.4" cy="403.5" r="2.2"/><circle cx="297.3" cy="420.6" r="2.2"/><circle cx="328.7" cy="429.6" r="2.2"/><circle cx="272.4" cy="420.2" r="2.2"/><circle cx="362.0" cy="392.9" r="2.2"/><circle cx="295.9" cy="420.6" r="2.2"/><circle cx="315.0" cy="424.5" r="2.2"/><circle cx="337.4" cy="418.6" r="2.2"/><circle cx="287.5" cy="388.0" r="2.2"/><circle cx="298.0" cy="406.5" r="2.2"/><circle cx="309.9" cy="416.9" r="2.2"/><circle cx="316.9" cy="424.0" r="2.2"/><circle cx="271.8" cy="438.4" r="2.2"/><circle cx="283.8" cy="418.7" r="2.2"/><circle cx="309.7" cy="411.3" r="2.2"/><circle cx="321.7" cy="412.6" r="2.2"/><circle cx="293.6" cy="419.8" r="2.2"/><circle cx="266.0" cy="406.4" r="2.2"/><circle cx="320.2" cy="406.1" r="2.2"/><circle cx="307.6" cy="414.4" r="2.2"/><circle cx="329.6" cy="415.7" r="2.2"/><circle cx="325.5" cy="406.3" r="2.2"/><circle cx="314.6" cy="393.2" r="2.2"/><circle cx="298.2" cy="415.4" r="2.2"/><circle cx="293.3" cy="421.1" r="2.2"/><circle cx="342.6" cy="391.7" r="2.2"/><circle cx="310.6" cy="403.7" r="2.2"/><circle cx="334.6" cy="404.6" r="2.2"/><circle cx="335.3" cy="436.2" r="2.2"/><circle cx="296.8" cy="402.8" r="2.2"/><circle cx="340.0" cy="416.3" r="2.2"/><circle cx="292.3" cy="414.2" r="2.2"/><circle cx="296.4" cy="422.6" r="2.2"/><circle cx="341.4" cy="427.7" r="2.2"/><circle cx="310.6" cy="379.5" r="2.2"/><circle cx="334.8" cy="411.8" r="2.2"/><circle cx="297.4" cy="403.6" r="2.2"/><circle cx="343.9" cy="409.2" r="2.2"/><circle cx="336.4" cy="415.7" r="2.2"/><circle cx="320.9" cy="417.3" r="2.2"/><circle cx="319.0" cy="394.2" r="2.2"/><circle cx="280.4" cy="407.5" r="2.2"/><circle cx="315.2" cy="421.8" r="2.2"/><circle cx="303.7" cy="399.0" r="2.2"/><circle cx="351.8" cy="410.6" r="2.2"/><circle cx="316.9" cy="437.1" r="2.2"/><circle cx="350.3" cy="418.7" r="2.2"/><circle cx="309.5" cy="429.1" r="2.2"/><circle cx="309.0" cy="428.6" r="2.2"/><circle cx="311.6" cy="405.4" r="2.2"/><circle cx="310.8" cy="408.1" r="2.2"/><circle cx="292.4" cy="387.1" r="2.2"/><circle cx="296.6" cy="437.2" r="2.2"/><circle cx="306.3" cy="423.1" r="2.2"/><circle cx="289.1" cy="413.6" r="2.2"/><circle cx="316.2" cy="431.3" r="2.2"/><circle cx="307.3" cy="390.0" r="2.2"/><circle cx="324.4" cy="417.2" r="2.2"/><circle cx="312.8" cy="414.5" r="2.2"/><circle cx="309.2" cy="400.9" r="2.2"/><circle cx="308.2" cy="448.3" r="2.2"/><circle cx="309.7" cy="425.6" r="2.2"/><circle cx="323.7" cy="424.1" r="2.2"/><circle cx="313.2" cy="379.7" r="2.2"/><circle cx="288.4" cy="425.1" r="2.2"/><circle cx="280.8" cy="443.0" r="2.2"/><circle cx="271.0" cy="399.2" r="2.2"/><circle cx="296.9" cy="438.0" r="2.2"/><circle cx="279.3" cy="397.0" r="2.2"/><circle cx="294.0" cy="414.7" r="2.2"/><circle cx="317.0" cy="392.9" r="2.2"/><circle cx="350.6" cy="404.2" r="2.2"/><circle cx="313.1" cy="410.0" r="2.2"/><circle cx="347.7" cy="397.7" r="2.2"/><circle cx="303.7" cy="404.0" r="2.2"/><circle cx="316.1" cy="412.6" r="2.2"/><circle cx="299.7" cy="430.4" r="2.2"/><circle cx="299.0" cy="433.5" r="2.2"/><circle cx="335.6" cy="408.9" r="2.2"/><circle cx="285.0" cy="386.2" r="2.2"/><circle cx="328.7" cy="444.7" r="2.2"/><circle cx="348.5" cy="407.2" r="2.2"/><circle cx="353.1" cy="439.1" r="2.2"/><circle cx="332.6" cy="475.9" r="2.2"/><circle cx="329.8" cy="480.0" r="2.2"/><circle cx="346.2" cy="448.4" r="2.2"/><circle cx="279.9" cy="438.3" r="2.2"/><circle cx="304.3" cy="476.6" r="2.2"/><circle cx="303.1" cy="476.7" r="2.2"/><circle cx="319.6" cy="465.0" r="2.2"/><circle cx="301.2" cy="459.5" r="2.2"/><circle cx="338.7" cy="466.9" r="2.2"/><circle cx="321.5" cy="444.0" r="2.2"/><circle cx="303.4" cy="430.9" r="2.2"/><circle cx="335.7" cy="455.2" r="2.2"/><circle cx="340.3" cy="480.2" r="2.2"/><circle cx="289.8" cy="460.0" r="2.2"/><circle cx="277.5" cy="463.5" r="2.2"/><circle cx="336.3" cy="444.6" r="2.2"/><circle cx="301.2" cy="436.3" r="2.2"/><circle cx="314.5" cy="477.0" r="2.2"/><circle cx="325.6" cy="481.8" r="2.2"/><circle cx="304.4" cy="471.2" r="2.2"/><circle cx="324.3" cy="481.6" r="2.2"/><circle cx="252.9" cy="455.9" r="2.2"/><circle cx="272.4" cy="472.1" r="2.2"/><circle cx="321.3" cy="455.7" r="2.2"/><circle cx="290.7" cy="468.1" r="2.2"/><circle cx="359.1" cy="432.0" r="2.2"/><circle cx="315.0" cy="444.9" r="2.2"/><circle cx="336.5" cy="455.5" r="2.2"/><circle cx="347.4" cy="477.6" r="2.2"/><circle cx="342.4" cy="440.2" r="2.2"/><circle cx="303.9" cy="448.7" r="2.2"/><circle cx="275.6" cy="463.1" r="2.2"/><circle cx="297.6" cy="434.8" r="2.2"/><circle cx="334.0" cy="477.3" r="2.2"/><circle cx="323.3" cy="471.0" r="2.2"/><circle cx="315.0" cy="467.9" r="2.2"/><circle cx="343.8" cy="461.8" r="2.2"/><circle cx="301.0" cy="435.2" r="2.2"/><circle cx="321.8" cy="453.8" r="2.2"/><circle cx="347.6" cy="442.0" r="2.2"/><circle cx="319.5" cy="463.4" r="2.2"/><circle cx="281.3" cy="464.6" r="2.2"/><circle cx="346.9" cy="446.9" r="2.2"/><circle cx="360.3" cy="442.7" r="2.2"/><circle cx="332.4" cy="441.0" r="2.2"/><circle cx="343.3" cy="451.3" r="2.2"/><circle cx="339.2" cy="435.1" r="2.2"/><circle cx="339.5" cy="469.3" r="2.2"/><circle cx="326.7" cy="444.7" r="2.2"/><circle cx="339.4" cy="437.3" r="2.2"/><circle cx="327.4" cy="468.8" r="2.2"/><circle cx="331.3" cy="464.6" r="2.2"/><circle cx="303.6" cy="464.5" r="2.2"/><circle cx="316.7" cy="471.8" r="2.2"/><circle cx="360.4" cy="476.5" r="2.2"/><circle cx="312.3" cy="431.0" r="2.2"/><circle cx="339.4" cy="429.9" r="2.2"/><circle cx="334.1" cy="439.9" r="2.2"/><circle cx="315.9" cy="471.5" r="2.2"/><circle cx="291.2" cy="448.2" r="2.2"/><circle cx="332.7" cy="461.3" r="2.2"/><circle cx="329.8" cy="480.0" r="2.2"/><circle cx="281.7" cy="445.2" r="2.2"/><circle cx="346.1" cy="455.4" r="2.2"/><circle cx="299.3" cy="474.4" r="2.2"/><circle cx="297.4" cy="450.0" r="2.2"/><circle cx="283.5" cy="433.9" r="2.2"/><circle cx="342.9" cy="459.1" r="2.2"/><circle cx="280.1" cy="459.6" r="2.2"/><circle cx="299.4" cy="469.8" r="2.2"/><circle cx="309.5" cy="441.0" r="2.2"/><circle cx="266.0" cy="444.9" r="2.2"/><circle cx="342.4" cy="448.0" r="2.2"/><circle cx="287.4" cy="457.9" r="2.2"/><circle cx="304.7" cy="476.7" r="2.2"/><circle cx="352.6" cy="459.7" r="2.2"/><circle cx="327.1" cy="448.6" r="2.2"/><circle cx="278.5" cy="468.6" r="2.2"/><circle cx="293.4" cy="449.0" r="2.2"/><circle cx="332.1" cy="460.2" r="2.2"/><circle cx="291.7" cy="472.2" r="2.2"/><circle cx="265.3" cy="447.3" r="2.2"/><circle cx="323.4" cy="456.0" r="2.2"/><circle cx="293.4" cy="430.4" r="2.2"/><circle cx="350.5" cy="473.3" r="2.2"/><circle cx="326.6" cy="440.6" r="2.2"/><circle cx="348.2" cy="476.5" r="2.2"/><circle cx="307.3" cy="451.5" r="2.2"/><circle cx="278.8" cy="454.8" r="2.2"/><circle cx="308.3" cy="448.1" r="2.2"/><circle cx="333.9" cy="460.2" r="2.2"/><circle cx="291.0" cy="431.8" r="2.2"/><circle cx="328.6" cy="461.1" r="2.2"/><circle cx="357.1" cy="441.6" r="2.2"/><circle cx="372.8" cy="463.1" r="2.2"/><circle cx="384.8" cy="511.6" r="2.2"/><circle cx="325.0" cy="513.1" r="2.2"/><circle cx="357.0" cy="499.2" r="2.2"/><circle cx="291.5" cy="501.4" r="2.2"/><circle cx="349.8" cy="504.4" r="2.2"/><circle cx="336.5" cy="481.3" r="2.2"/><circle cx="374.3" cy="495.4" r="2.2"/><circle cx="338.9" cy="500.1" r="2.2"/><circle cx="378.2" cy="506.2" r="2.2"/><circle cx="362.3" cy="485.7" r="2.2"/><circle cx="364.1" cy="491.8" r="2.2"/><circle cx="294.2" cy="505.8" r="2.2"/><circle cx="336.1" cy="480.4" r="2.2"/><circle cx="305.3" cy="485.4" r="2.2"/><circle cx="360.8" cy="485.5" r="2.2"/><circle cx="306.5" cy="494.7" r="2.2"/><circle cx="333.9" cy="509.2" r="2.2"/><circle cx="342.3" cy="484.3" r="2.2"/><circle cx="306.8" cy="504.3" r="2.2"/><circle cx="314.1" cy="498.9" r="2.2"/><circle cx="344.1" cy="507.1" r="2.2"/><circle cx="373.6" cy="503.9" r="2.2"/><circle cx="330.0" cy="505.1" r="2.2"/><circle cx="319.1" cy="498.8" r="2.2"/><circle cx="359.3" cy="491.6" r="2.2"/><circle cx="315.0" cy="481.6" r="2.2"/><circle cx="307.1" cy="484.2" r="2.2"/><circle cx="378.0" cy="482.4" r="2.2"/><circle cx="252.9" cy="415.8" r="2.2"/><circle cx="254.6" cy="429.0" r="2.2"/><circle cx="259.8" cy="427.7" r="2.2"/><circle cx="390.0" cy="421.1" r="2.2"/><circle cx="390.0" cy="425.1" r="2.2"/><circle cx="377.8" cy="431.7" r="2.2"/><circle cx="370.9" cy="435.6" r="2.2"/><circle cx="308.4" cy="517.5" r="2.2"/><circle cx="315.4" cy="516.2" r="2.2"/><circle cx="318.8" cy="516.8" r="2.2"/><circle cx="350.1" cy="510.9" r="2.2"/><circle cx="357.0" cy="509.6" r="2.2"/><circle cx="363.9" cy="511.5" r="2.2"/><circle cx="332.7" cy="512.2" r="2.2"/><circle cx="343.1" cy="516.2" r="2.2"/></g>
<path d="M249.5,374.5V524.8H393.5" fill="none" stroke="#222" stroke-width="1"/>
<line x1="252.9" y1="524.8" x2="252.9" y2="528.6" stroke="#222" stroke-width="0.9"/>
<text x="252.9" y="538.7" font-size="8.6" text-anchor="middle" fill="#222">1</text>
<line x1="287.6" y1="524.8" x2="287.6" y2="528.6" stroke="#222" stroke-width="0.9"/>
<text x="287.6" y="538.7" font-size="8.6" text-anchor="middle" fill="#222">2</text>
<line x1="322.3" y1="524.8" x2="322.3" y2="528.6" stroke="#222" stroke-width="0.9"/>
<text x="322.3" y="538.7" font-size="8.6" text-anchor="middle" fill="#222">3</text>
<line x1="357.0" y1="524.8" x2="357.0" y2="528.6" stroke="#222" stroke-width="0.9"/>
<text x="357.0" y="538.7" font-size="8.6" text-anchor="middle" fill="#222">4</text>
<line x1="391.7" y1="524.8" x2="391.7" y2="528.6" stroke="#222" stroke-width="0.9"/>
<text x="391.7" y="538.7" font-size="8.6" text-anchor="middle" fill="#222">5</text>
<line x1="245.7" y1="518.8" x2="249.5" y2="518.8" stroke="#222" stroke-width="0.9"/>
<text x="242.5" y="521.9" font-size="8.6" text-anchor="end" fill="#222">0</text>
<line x1="245.7" y1="479.2" x2="249.5" y2="479.2" stroke="#222" stroke-width="0.9"/>
<text x="242.5" y="482.3" font-size="8.6" text-anchor="end" fill="#222">3</text>
<line x1="245.7" y1="439.6" x2="249.5" y2="439.6" stroke="#222" stroke-width="0.9"/>
<text x="242.5" y="442.7" font-size="8.6" text-anchor="end" fill="#222">6</text>
<line x1="245.7" y1="400.0" x2="249.5" y2="400.0" stroke="#222" stroke-width="0.9"/>
<text x="242.5" y="403.1" font-size="8.6" text-anchor="end" fill="#222">9</text>
<text x="322.3" y="550.2" font-size="9.4" text-anchor="middle" fill="#111">The expression of MDM4</text>
<text x="322.3" y="559.6" font-size="9.8" text-anchor="middle" fill="#111">Log<tspan font-size="6.8" dy="2">2</tspan><tspan dy="-2"> (TPM+1)</tspan></text>
<text x="216.5" y="447.2" font-size="9.4" text-anchor="middle" fill="#111" textLength="103.5" lengthAdjust="spacingAndGlyphs" transform="rotate(-90 216.5 447.2)">The expression of PCK1</text>
<text x="226.1" y="447.2" font-size="9.8" text-anchor="middle" fill="#111" transform="rotate(-90 226.1 447.2)">Log<tspan font-size="6.8" dy="2">2</tspan><tspan dy="-2"> (TPM+1)</tspan></text>
<text x="390.6" y="497.0" font-size="8.1" text-anchor="end" fill="#111">Spearman</text>
<text x="390.6" y="506.7" font-size="8.1" text-anchor="end" fill="#111"><tspan font-style="italic">R</tspan> = -0.272</text>
<text x="390.6" y="516.1" font-size="8.1" text-anchor="end" fill="#111"><tspan font-style="italic">P</tspan> &lt; 0.001</text>
<polygon points="449.0,427.7 455.4,428.6 461.8,429.5 468.2,430.2 474.6,430.9 481.0,431.6 487.4,432.1 493.8,432.6 500.2,433.0 506.6,433.4 513.0,433.6 519.4,433.8 525.8,433.9 532.2,434.0 538.6,433.9 545.0,433.7 551.4,433.4 557.8,433.1 564.2,432.6 570.6,432.1 577.0,431.4 577.0,445.4 570.6,444.2 564.2,443.2 557.8,442.3 551.4,441.4 545.0,440.7 538.6,440.0 532.2,439.4 525.8,439.0 519.4,438.6 513.0,438.3 506.6,438.1 500.2,437.9 493.8,437.9 487.4,437.9 481.0,437.9 474.6,438.1 468.2,438.3 461.8,438.6 455.4,438.9 449.0,439.3" fill="#bdbdbd" fill-opacity="0.35"/>
<line x1="449.0" y1="433.5" x2="577.0" y2="438.4" stroke="#4dbccb" stroke-width="1"/>
<g fill="#7bcfdb" fill-opacity="0.82" stroke="#6fc8d5" stroke-width="0.5"><circle cx="519.3" cy="428.4" r="2.2"/><circle cx="493.3" cy="419.4" r="2.2"/><circle cx="478.1" cy="427.9" r="2.2"/><circle cx="505.3" cy="408.4" r="2.2"/><circle cx="495.5" cy="430.2" r="2.2"/><circle cx="515.1" cy="423.1" r="2.2"/><circle cx="517.4" cy="427.8" r="2.2"/><circle cx="485.2" cy="410.8" r="2.2"/><circle cx="543.6" cy="427.8" r="2.2"/><circle cx="492.3" cy="413.6" r="2.2"/><circle cx="486.2" cy="425.7" r="2.2"/><circle cx="473.3" cy="408.5" r="2.2"/><circle cx="481.3" cy="424.7" r="2.2"/><circle cx="492.8" cy="437.0" r="2.2"/><circle cx="479.9" cy="431.1" r="2.2"/><circle cx="481.6" cy="415.5" r="2.2"/><circle cx="486.4" cy="431.3" r="2.2"/><circle cx="520.8" cy="418.5" r="2.2"/><circle cx="524.5" cy="413.8" r="2.2"/><circle cx="513.8" cy="419.0" r="2.2"/><circle cx="524.9" cy="449.7" r="2.2"/><circle cx="505.3" cy="429.0" r="2.2"/><circle cx="503.1" cy="420.7" r="2.2"/><circle cx="484.4" cy="451.6" r="2.2"/><circle cx="492.7" cy="422.0" r="2.2"/><circle cx="487.2" cy="465.0" r="2.2"/><circle cx="532.0" cy="410.4" r="2.2"/><circle cx="519.1" cy="432.7" r="2.2"/><circle cx="501.0" cy="448.5" r="2.2"/><circle cx="484.0" cy="417.5" r="2.2"/><circle cx="496.9" cy="411.6" r="2.2"/><circle cx="502.0" cy="463.5" r="2.2"/><circle cx="509.5" cy="405.9" r="2.2"/><circle cx="512.3" cy="440.3" r="2.2"/><circle cx="491.0" cy="420.6" r="2.2"/><circle cx="489.1" cy="449.1" r="2.2"/><circle cx="509.2" cy="428.8" r="2.2"/><circle cx="490.2" cy="445.3" r="2.2"/><circle cx="514.0" cy="457.9" r="2.2"/><circle cx="491.4" cy="438.0" r="2.2"/><circle cx="544.3" cy="445.5" r="2.2"/><circle cx="519.6" cy="432.7" r="2.2"/><circle cx="530.6" cy="407.7" r="2.2"/><circle cx="500.0" cy="426.6" r="2.2"/><circle cx="486.2" cy="435.6" r="2.2"/><circle cx="521.7" cy="449.2" r="2.2"/><circle cx="489.0" cy="429.3" r="2.2"/><circle cx="498.9" cy="435.8" r="2.2"/><circle cx="460.4" cy="435.0" r="2.2"/><circle cx="503.0" cy="430.8" r="2.2"/><circle cx="507.3" cy="417.2" r="2.2"/><circle cx="550.6" cy="448.0" r="2.2"/><circle cx="484.9" cy="421.9" r="2.2"/><circle cx="458.7" cy="446.8" r="2.2"/><circle cx="485.5" cy="447.1" r="2.2"/><circle cx="481.0" cy="449.7" r="2.2"/><circle cx="486.3" cy="424.8" r="2.2"/><circle cx="536.4" cy="455.9" r="2.2"/><circle cx="514.7" cy="422.3" r="2.2"/><circle cx="513.2" cy="403.9" r="2.2"/><circle cx="513.6" cy="410.6" r="2.2"/><circle cx="488.7" cy="450.0" r="2.2"/><circle cx="534.7" cy="425.6" r="2.2"/><circle cx="477.8" cy="430.9" r="2.2"/><circle cx="523.4" cy="442.3" r="2.2"/><circle cx="514.0" cy="450.6" r="2.2"/><circle cx="518.2" cy="425.4" r="2.2"/><circle cx="502.1" cy="434.3" r="2.2"/><circle cx="502.5" cy="409.3" r="2.2"/><circle cx="532.0" cy="461.4" r="2.2"/><circle cx="482.8" cy="432.7" r="2.2"/><circle cx="506.2" cy="446.1" r="2.2"/><circle cx="524.0" cy="389.5" r="2.2"/><circle cx="481.7" cy="446.2" r="2.2"/><circle cx="508.4" cy="412.2" r="2.2"/><circle cx="523.7" cy="428.1" r="2.2"/><circle cx="517.1" cy="428.7" r="2.2"/><circle cx="505.2" cy="433.4" r="2.2"/><circle cx="494.9" cy="423.6" r="2.2"/><circle cx="503.0" cy="424.6" r="2.2"/><circle cx="496.6" cy="405.4" r="2.2"/><circle cx="508.9" cy="429.0" r="2.2"/><circle cx="540.3" cy="428.3" r="2.2"/><circle cx="511.4" cy="426.5" r="2.2"/><circle cx="471.0" cy="414.6" r="2.2"/><circle cx="477.3" cy="411.2" r="2.2"/><circle cx="520.5" cy="434.6" r="2.2"/><circle cx="481.6" cy="419.3" r="2.2"/><circle cx="498.1" cy="406.0" r="2.2"/><circle cx="497.3" cy="427.5" r="2.2"/><circle cx="505.3" cy="447.1" r="2.2"/><circle cx="472.4" cy="418.4" r="2.2"/><circle cx="514.0" cy="431.4" r="2.2"/><circle cx="492.0" cy="418.6" r="2.2"/><circle cx="485.7" cy="416.3" r="2.2"/><circle cx="512.6" cy="445.2" r="2.2"/><circle cx="494.4" cy="434.1" r="2.2"/><circle cx="494.1" cy="425.9" r="2.2"/><circle cx="485.2" cy="443.8" r="2.2"/><circle cx="480.8" cy="443.7" r="2.2"/><circle cx="515.6" cy="421.7" r="2.2"/><circle cx="454.0" cy="425.8" r="2.2"/><circle cx="477.5" cy="431.7" r="2.2"/><circle cx="512.4" cy="406.1" r="2.2"/><circle cx="499.5" cy="423.6" r="2.2"/><circle cx="487.7" cy="464.2" r="2.2"/><circle cx="468.0" cy="419.8" r="2.2"/><circle cx="479.3" cy="436.2" r="2.2"/><circle cx="526.5" cy="418.6" r="2.2"/><circle cx="491.3" cy="438.7" r="2.2"/><circle cx="477.9" cy="407.6" r="2.2"/><circle cx="481.0" cy="430.4" r="2.2"/><circle cx="506.2" cy="431.6" r="2.2"/><circle cx="527.7" cy="454.9" r="2.2"/><circle cx="484.3" cy="426.7" r="2.2"/><circle cx="500.8" cy="415.9" r="2.2"/><circle cx="470.5" cy="416.5" r="2.2"/><circle cx="484.0" cy="434.8" r="2.2"/><circle cx="547.0" cy="421.9" r="2.2"/><circle cx="474.0" cy="417.8" r="2.2"/><circle cx="494.6" cy="413.1" r="2.2"/><circle cx="519.1" cy="427.1" r="2.2"/><circle cx="491.1" cy="430.2" r="2.2"/><circle cx="454.6" cy="428.1" r="2.2"/><circle cx="534.6" cy="437.9" r="2.2"/><circle cx="483.1" cy="427.0" r="2.2"/><circle cx="521.1" cy="430.0" r="2.2"/><circle cx="466.5" cy="436.7" r="2.2"/><circle cx="507.3" cy="420.8" r="2.2"/><circle cx="469.9" cy="428.0" r="2.2"/><circle cx="533.5" cy="404.2" r="2.2"/><circle cx="477.7" cy="447.9" r="2.2"/><circle cx="501.6" cy="438.8" r="2.2"/><circle cx="497.5" cy="426.7" r="2.2"/><circle cx="517.8" cy="434.7" r="2.2"/><circle cx="485.3" cy="444.8" r="2.2"/><circle cx="496.3" cy="439.1" r="2.2"/><circle cx="503.7" cy="378.7" r="2.2"/><circle cx="525.6" cy="435.4" r="2.2"/><circle cx="512.3" cy="448.7" r="2.2"/><circle cx="476.6" cy="418.5" r="2.2"/><circle cx="529.4" cy="440.9" r="2.2"/><circle cx="526.8" cy="426.2" r="2.2"/><circle cx="505.7" cy="398.9" r="2.2"/><circle cx="502.4" cy="450.4" r="2.2"/><circle cx="507.4" cy="432.2" r="2.2"/><circle cx="542.7" cy="464.1" r="2.2"/><circle cx="528.6" cy="427.1" r="2.2"/><circle cx="465.0" cy="418.5" r="2.2"/><circle cx="501.2" cy="420.0" r="2.2"/><circle cx="508.4" cy="427.5" r="2.2"/><circle cx="513.2" cy="411.2" r="2.2"/><circle cx="513.8" cy="418.3" r="2.2"/><circle cx="487.5" cy="397.7" r="2.2"/><circle cx="489.5" cy="410.8" r="2.2"/><circle cx="516.5" cy="436.5" r="2.2"/><circle cx="511.6" cy="418.5" r="2.2"/><circle cx="500.8" cy="450.8" r="2.2"/><circle cx="492.7" cy="407.8" r="2.2"/><circle cx="496.2" cy="443.6" r="2.2"/><circle cx="519.8" cy="408.4" r="2.2"/><circle cx="552.7" cy="419.1" r="2.2"/><circle cx="504.2" cy="418.5" r="2.2"/><circle cx="509.0" cy="450.4" r="2.2"/><circle cx="542.7" cy="405.6" r="2.2"/><circle cx="481.6" cy="403.9" r="2.2"/><circle cx="516.1" cy="435.9" r="2.2"/><circle cx="474.6" cy="424.9" r="2.2"/><circle cx="504.3" cy="414.1" r="2.2"/><circle cx="533.8" cy="408.4" r="2.2"/><circle cx="492.8" cy="436.5" r="2.2"/><circle cx="532.8" cy="429.9" r="2.2"/><circle cx="494.7" cy="435.6" r="2.2"/><circle cx="520.0" cy="417.5" r="2.2"/><circle cx="522.5" cy="424.6" r="2.2"/><circle cx="519.0" cy="415.6" r="2.2"/><circle cx="530.6" cy="405.4" r="2.2"/><circle cx="507.7" cy="428.8" r="2.2"/><circle cx="510.5" cy="420.3" r="2.2"/><circle cx="498.3" cy="401.4" r="2.2"/><circle cx="487.4" cy="423.6" r="2.2"/><circle cx="497.3" cy="436.9" r="2.2"/><circle cx="508.2" cy="403.1" r="2.2"/><circle cx="486.9" cy="442.1" r="2.2"/><circle cx="487.8" cy="445.8" r="2.2"/><circle cx="539.2" cy="452.0" r="2.2"/><circle cx="509.3" cy="423.3" r="2.2"/><circle cx="517.0" cy="407.0" r="2.2"/><circle cx="517.0" cy="438.5" r="2.2"/><circle cx="501.0" cy="421.7" r="2.2"/><circle cx="492.6" cy="438.0" r="2.2"/><circle cx="511.7" cy="434.2" r="2.2"/><circle cx="546.3" cy="435.0" r="2.2"/><circle cx="516.4" cy="443.9" r="2.2"/><circle cx="506.1" cy="423.9" r="2.2"/><circle cx="498.9" cy="424.9" r="2.2"/><circle cx="504.0" cy="411.8" r="2.2"/><circle cx="485.2" cy="425.9" r="2.2"/><circle cx="529.1" cy="432.9" r="2.2"/><circle cx="521.4" cy="425.8" r="2.2"/><circle cx="524.8" cy="378.0" r="2.2"/><circle cx="500.7" cy="423.9" r="2.2"/><circle cx="500.5" cy="438.4" r="2.2"/><circle cx="549.9" cy="406.6" r="2.2"/><circle cx="517.4" cy="441.9" r="2.2"/><circle cx="563.1" cy="402.0" r="2.2"/><circle cx="509.0" cy="434.9" r="2.2"/><circle cx="515.1" cy="400.6" r="2.2"/><circle cx="505.5" cy="440.1" r="2.2"/><circle cx="502.7" cy="461.9" r="2.2"/><circle cx="524.0" cy="426.2" r="2.2"/><circle cx="532.8" cy="423.8" r="2.2"/><circle cx="515.5" cy="427.1" r="2.2"/><circle cx="471.0" cy="428.1" r="2.2"/><circle cx="513.4" cy="411.9" r="2.2"/><circle cx="520.6" cy="442.7" r="2.2"/><circle cx="505.5" cy="424.3" r="2.2"/><circle cx="533.8" cy="437.7" r="2.2"/><circle cx="466.6" cy="439.4" r="2.2"/><circle cx="497.7" cy="406.9" r="2.2"/><circle cx="519.2" cy="451.2" r="2.2"/><circle cx="524.0" cy="403.4" r="2.2"/><circle cx="518.5" cy="445.6" r="2.2"/><circle cx="540.9" cy="418.2" r="2.2"/><circle cx="485.9" cy="396.0" r="2.2"/><circle cx="509.6" cy="461.6" r="2.2"/><circle cx="511.5" cy="431.2" r="2.2"/><circle cx="518.9" cy="422.9" r="2.2"/><circle cx="486.9" cy="422.4" r="2.2"/><circle cx="522.9" cy="431.5" r="2.2"/><circle cx="503.8" cy="447.1" r="2.2"/><circle cx="502.1" cy="438.1" r="2.2"/><circle cx="503.9" cy="436.6" r="2.2"/><circle cx="465.9" cy="421.1" r="2.2"/><circle cx="490.7" cy="433.9" r="2.2"/><circle cx="484.3" cy="430.2" r="2.2"/><circle cx="497.3" cy="403.1" r="2.2"/><circle cx="466.3" cy="449.0" r="2.2"/><circle cx="505.9" cy="449.3" r="2.2"/><circle cx="499.9" cy="389.6" r="2.2"/><circle cx="512.4" cy="428.6" r="2.2"/><circle cx="518.6" cy="420.7" r="2.2"/><circle cx="514.9" cy="428.6" r="2.2"/><circle cx="500.1" cy="410.3" r="2.2"/><circle cx="524.2" cy="429.2" r="2.2"/><circle cx="508.9" cy="446.9" r="2.2"/><circle cx="488.3" cy="454.4" r="2.2"/><circle cx="500.1" cy="405.0" r="2.2"/><circle cx="531.4" cy="431.2" r="2.2"/><circle cx="498.5" cy="417.1" r="2.2"/><circle cx="522.7" cy="442.9" r="2.2"/><circle cx="504.9" cy="418.7" r="2.2"/><circle cx="520.4" cy="416.6" r="2.2"/><circle cx="527.1" cy="424.5" r="2.2"/><circle cx="495.6" cy="453.5" r="2.2"/><circle cx="489.1" cy="415.2" r="2.2"/><circle cx="539.9" cy="415.9" r="2.2"/><circle cx="496.7" cy="456.5" r="2.2"/><circle cx="524.9" cy="445.7" r="2.2"/><circle cx="501.5" cy="404.9" r="2.2"/><circle cx="491.4" cy="436.4" r="2.2"/><circle cx="518.7" cy="438.8" r="2.2"/><circle cx="525.0" cy="402.1" r="2.2"/><circle cx="500.4" cy="405.7" r="2.2"/><circle cx="484.2" cy="427.2" r="2.2"/><circle cx="499.1" cy="469.4" r="2.2"/><circle cx="499.0" cy="419.4" r="2.2"/><circle cx="498.4" cy="449.8" r="2.2"/><circle cx="519.5" cy="442.9" r="2.2"/><circle cx="525.1" cy="415.1" r="2.2"/><circle cx="514.8" cy="433.4" r="2.2"/><circle cx="504.9" cy="403.7" r="2.2"/><circle cx="549.2" cy="424.1" r="2.2"/><circle cx="454.6" cy="449.3" r="2.2"/><circle cx="475.6" cy="405.9" r="2.2"/><circle cx="475.0" cy="408.3" r="2.2"/><circle cx="511.7" cy="432.6" r="2.2"/><circle cx="537.6" cy="433.1" r="2.2"/><circle cx="531.9" cy="410.8" r="2.2"/><circle cx="491.1" cy="430.3" r="2.2"/><circle cx="549.2" cy="478.1" r="2.2"/><circle cx="537.5" cy="485.6" r="2.2"/><circle cx="509.4" cy="465.7" r="2.2"/><circle cx="542.8" cy="447.8" r="2.2"/><circle cx="541.3" cy="473.5" r="2.2"/><circle cx="512.7" cy="472.3" r="2.2"/><circle cx="546.5" cy="494.7" r="2.2"/><circle cx="526.5" cy="486.3" r="2.2"/><circle cx="526.3" cy="479.7" r="2.2"/><circle cx="511.4" cy="498.2" r="2.2"/><circle cx="535.9" cy="471.6" r="2.2"/><circle cx="536.1" cy="470.2" r="2.2"/><circle cx="484.7" cy="465.6" r="2.2"/><circle cx="529.1" cy="476.6" r="2.2"/><circle cx="557.0" cy="471.5" r="2.2"/><circle cx="493.0" cy="485.3" r="2.2"/><circle cx="496.3" cy="489.2" r="2.2"/><circle cx="522.0" cy="481.1" r="2.2"/><circle cx="548.3" cy="469.3" r="2.2"/><circle cx="541.5" cy="453.3" r="2.2"/><circle cx="518.1" cy="489.5" r="2.2"/><circle cx="486.6" cy="486.8" r="2.2"/><circle cx="505.2" cy="446.0" r="2.2"/><circle cx="503.0" cy="494.1" r="2.2"/><circle cx="561.1" cy="499.4" r="2.2"/><circle cx="536.4" cy="499.7" r="2.2"/><circle cx="495.0" cy="480.8" r="2.2"/><circle cx="475.0" cy="497.0" r="2.2"/><circle cx="532.6" cy="490.2" r="2.2"/><circle cx="559.3" cy="494.3" r="2.2"/><circle cx="504.9" cy="483.8" r="2.2"/><circle cx="491.7" cy="467.6" r="2.2"/><circle cx="548.8" cy="454.0" r="2.2"/><circle cx="530.4" cy="460.5" r="2.2"/><circle cx="486.6" cy="460.2" r="2.2"/><circle cx="518.1" cy="457.8" r="2.2"/><circle cx="485.4" cy="462.2" r="2.2"/><circle cx="528.4" cy="452.8" r="2.2"/><circle cx="509.0" cy="503.0" r="2.2"/><circle cx="519.8" cy="474.4" r="2.2"/><circle cx="480.3" cy="447.5" r="2.2"/><circle cx="490.7" cy="457.8" r="2.2"/><circle cx="503.8" cy="452.7" r="2.2"/><circle cx="495.4" cy="477.1" r="2.2"/><circle cx="499.6" cy="476.7" r="2.2"/><circle cx="512.4" cy="480.6" r="2.2"/><circle cx="493.9" cy="471.1" r="2.2"/><circle cx="498.3" cy="457.6" r="2.2"/><circle cx="532.1" cy="454.0" r="2.2"/><circle cx="486.7" cy="492.6" r="2.2"/><circle cx="516.3" cy="485.7" r="2.2"/><circle cx="538.0" cy="469.6" r="2.2"/><circle cx="544.3" cy="498.2" r="2.2"/><circle cx="537.3" cy="454.4" r="2.2"/><circle cx="504.6" cy="454.7" r="2.2"/><circle cx="534.0" cy="478.6" r="2.2"/><circle cx="511.5" cy="450.5" r="2.2"/><circle cx="524.7" cy="470.5" r="2.2"/><circle cx="516.8" cy="474.5" r="2.2"/><circle cx="557.3" cy="472.1" r="2.2"/><circle cx="493.7" cy="445.4" r="2.2"/><circle cx="483.6" cy="463.6" r="2.2"/><circle cx="512.6" cy="480.7" r="2.2"/><circle cx="493.3" cy="482.9" r="2.2"/><circle cx="544.7" cy="448.3" r="2.2"/><circle cx="501.4" cy="497.6" r="2.2"/><circle cx="486.5" cy="481.6" r="2.2"/><circle cx="487.8" cy="470.0" r="2.2"/><circle cx="536.6" cy="452.3" r="2.2"/><circle cx="546.8" cy="477.8" r="2.2"/><circle cx="450.6" cy="444.1" r="2.2"/><circle cx="450.6" cy="460.4" r="2.2"/><circle cx="458.6" cy="481.3" r="2.2"/><circle cx="469.8" cy="481.3" r="2.2"/><circle cx="498.6" cy="517.2" r="2.2"/><circle cx="503.4" cy="519.5" r="2.2"/><circle cx="508.2" cy="520.1" r="2.2"/><circle cx="509.8" cy="519.5" r="2.2"/><circle cx="513.0" cy="520.1" r="2.2"/><circle cx="506.6" cy="519.0" r="2.2"/><circle cx="516.2" cy="507.9" r="2.2"/><circle cx="530.6" cy="502.1" r="2.2"/><circle cx="532.2" cy="490.5" r="2.2"/><circle cx="516.2" cy="491.7" r="2.2"/><circle cx="511.4" cy="378.0" r="2.2"/><circle cx="561.0" cy="407.0" r="2.2"/><circle cx="557.8" cy="387.3" r="2.2"/><circle cx="575.4" cy="453.4" r="2.2"/><circle cx="575.4" cy="433.7" r="2.2"/><circle cx="573.8" cy="481.3" r="2.2"/><circle cx="567.4" cy="440.7" r="2.2"/></g>
<path d="M446.5,374.5V524.8H578.8" fill="none" stroke="#222" stroke-width="1"/>
<line x1="449.0" y1="524.8" x2="449.0" y2="528.6" stroke="#222" stroke-width="0.9"/>
<text x="449.0" y="538.7" font-size="8.6" text-anchor="middle" fill="#222">1</text>
<line x1="481.0" y1="524.8" x2="481.0" y2="528.6" stroke="#222" stroke-width="0.9"/>
<text x="481.0" y="538.7" font-size="8.6" text-anchor="middle" fill="#222">2</text>
<line x1="513.0" y1="524.8" x2="513.0" y2="528.6" stroke="#222" stroke-width="0.9"/>
<text x="513.0" y="538.7" font-size="8.6" text-anchor="middle" fill="#222">3</text>
<line x1="545.0" y1="524.8" x2="545.0" y2="528.6" stroke="#222" stroke-width="0.9"/>
<text x="545.0" y="538.7" font-size="8.6" text-anchor="middle" fill="#222">4</text>
<line x1="577.0" y1="524.8" x2="577.0" y2="528.6" stroke="#222" stroke-width="0.9"/>
<text x="577.0" y="538.7" font-size="8.6" text-anchor="middle" fill="#222">5</text>
<line x1="442.7" y1="520.7" x2="446.5" y2="520.7" stroke="#222" stroke-width="0.9"/>
<text x="439.5" y="523.8" font-size="8.6" text-anchor="end" fill="#222">0.0</text>
<line x1="442.7" y1="491.7" x2="446.5" y2="491.7" stroke="#222" stroke-width="0.9"/>
<text x="439.5" y="494.8" font-size="8.6" text-anchor="end" fill="#222">2.5</text>
<line x1="442.7" y1="462.7" x2="446.5" y2="462.7" stroke="#222" stroke-width="0.9"/>
<text x="439.5" y="465.8" font-size="8.6" text-anchor="end" fill="#222">5.0</text>
<line x1="442.7" y1="433.7" x2="446.5" y2="433.7" stroke="#222" stroke-width="0.9"/>
<text x="439.5" y="436.8" font-size="8.6" text-anchor="end" fill="#222">7.5</text>
<line x1="442.7" y1="404.7" x2="446.5" y2="404.7" stroke="#222" stroke-width="0.9"/>
<text x="439.5" y="407.8" font-size="8.6" text-anchor="end" fill="#222">10.0</text>
<line x1="442.7" y1="375.7" x2="446.5" y2="375.7" stroke="#222" stroke-width="0.9"/>
<text x="439.5" y="378.8" font-size="8.6" text-anchor="end" fill="#222">12.5</text>
<text x="513.5" y="550.2" font-size="9.4" text-anchor="middle" fill="#111">The expression of MDM4</text>
<text x="513.5" y="559.6" font-size="9.8" text-anchor="middle" fill="#111">Log<tspan font-size="6.8" dy="2">2</tspan><tspan dy="-2"> (TPM+1)</tspan></text>
<text x="405.5" y="449.3" font-size="9.4" text-anchor="middle" fill="#111" transform="rotate(-90 405.5 449.3)">The expression of G6PC</text>
<text x="415.1" y="449.3" font-size="9.8" text-anchor="middle" fill="#111" transform="rotate(-90 415.1 449.3)">Log<tspan font-size="6.8" dy="2">2</tspan><tspan dy="-2"> (TPM+1)</tspan></text>
<text x="577.3" y="499.1" font-size="8.1" text-anchor="end" fill="#111">Spearman</text>
<text x="577.3" y="508.8" font-size="8.1" text-anchor="end" fill="#111"><tspan font-style="italic">R</tspan> = -0.025</text>
<text x="577.3" y="518.2" font-size="8.1" text-anchor="end" fill="#111"><tspan font-style="italic">P</tspan> = 0.625</text>
<text x="2.7" y="600.8" font-size="16" font-weight="bold">D</text>
<text x="71.5" y="599.6" font-size="14.2" font-weight="bold" textLength="32.4" lengthAdjust="spacingAndGlyphs">Huh7</text>
<text x="67.4" y="790.9" font-size="13.7" font-weight="bold" textLength="41.8" lengthAdjust="spacingAndGlyphs">Hep3B</text>
<rect x="59.8" y="690.7" width="22.2" height="48.1" fill="#000"/>
<line x1="105.0" y1="641.1" x2="105.0" y2="638.3" stroke="#000" stroke-width="1.1"/>
<line x1="98.7" y1="638.3" x2="111.0" y2="638.3" stroke="#000" stroke-width="1.1"/>
<rect x="95.0" y="641.8" width="20.1" height="97.0" fill="#a2a2a6" stroke="#000" stroke-width="1.4"/>
<path d="M48.0,618.1V738.8H126.8" fill="none" stroke="#000" stroke-width="1.4"/>
<line x1="43.2" y1="738.8" x2="48.0" y2="738.8" stroke="#000" stroke-width="1.2"/>
<text x="41.1" y="742.1" font-size="9" font-weight="bold" text-anchor="end">0.0</text>
<line x1="43.2" y1="714.8" x2="48.0" y2="714.8" stroke="#000" stroke-width="1.2"/>
<text x="41.1" y="718.1" font-size="9" font-weight="bold" text-anchor="end">0.5</text>
<line x1="43.2" y1="690.7" x2="48.0" y2="690.7" stroke="#000" stroke-width="1.2"/>
<text x="41.1" y="694.0" font-size="9" font-weight="bold" text-anchor="end">1.0</text>
<line x1="43.2" y1="666.7" x2="48.0" y2="666.7" stroke="#000" stroke-width="1.2"/>
<text x="41.1" y="670.0" font-size="9" font-weight="bold" text-anchor="end">1.5</text>
<line x1="43.2" y1="642.6" x2="48.0" y2="642.6" stroke="#000" stroke-width="1.2"/>
<text x="41.1" y="645.9" font-size="9" font-weight="bold" text-anchor="end">2.0</text>
<line x1="43.2" y1="618.6" x2="48.0" y2="618.6" stroke="#000" stroke-width="1.2"/>
<text x="41.1" y="621.9" font-size="9" font-weight="bold" text-anchor="end">2.5</text>
<line x1="70.9" y1="738.8" x2="70.9" y2="743.2" stroke="#000" stroke-width="1.1"/>
<line x1="105.0" y1="738.8" x2="105.0" y2="743.2" stroke="#000" stroke-width="1.1"/>
<path d="M68.3,629.7V625.9H103.4V629.7" fill="none" stroke="#000" stroke-width="1.3"/>
<text x="85.4" y="622.7" font-size="8.5" font-weight="bold" text-anchor="middle">**</text>
<text x="70.9" y="751.5" font-size="9" font-weight="bold" text-anchor="middle" textLength="31.5" lengthAdjust="spacingAndGlyphs">Control</text>
<text x="105.0" y="751.5" font-size="9" font-weight="bold" text-anchor="middle" textLength="27.3" lengthAdjust="spacingAndGlyphs">MDMX</text>
<text x="23.2" y="676.8" font-size="9.7" font-weight="bold" text-anchor="middle" textLength="145" lengthAdjust="spacingAndGlyphs" transform="rotate(-90 23.2 676.8)">Reletive Glucose Consumption</text>
<rect x="177.2" y="690.7" width="21.8" height="46.3" fill="#000"/>
<line x1="221.1" y1="640.7" x2="221.1" y2="638.4" stroke="#000" stroke-width="1.1"/>
<line x1="215.2" y1="638.4" x2="226.9" y2="638.4" stroke="#000" stroke-width="1.1"/>
<rect x="211.1" y="641.4" width="19.9" height="95.6" fill="#a2a2a6" stroke="#000" stroke-width="1.4"/>
<path d="M165.2,620.8V737.0H243.6" fill="none" stroke="#000" stroke-width="1.4"/>
<line x1="160.4" y1="737.0" x2="165.2" y2="737.0" stroke="#000" stroke-width="1.2"/>
<text x="159.7" y="740.3" font-size="9" font-weight="bold" text-anchor="end">0.0</text>
<line x1="160.4" y1="713.9" x2="165.2" y2="713.9" stroke="#000" stroke-width="1.2"/>
<text x="159.7" y="717.2" font-size="9" font-weight="bold" text-anchor="end">0.5</text>
<line x1="160.4" y1="690.7" x2="165.2" y2="690.7" stroke="#000" stroke-width="1.2"/>
<text x="159.7" y="694.0" font-size="9" font-weight="bold" text-anchor="end">1.0</text>
<line x1="160.4" y1="667.6" x2="165.2" y2="667.6" stroke="#000" stroke-width="1.2"/>
<text x="159.7" y="670.9" font-size="9" font-weight="bold" text-anchor="end">1.5</text>
<line x1="160.4" y1="644.4" x2="165.2" y2="644.4" stroke="#000" stroke-width="1.2"/>
<text x="159.7" y="647.7" font-size="9" font-weight="bold" text-anchor="end">2.0</text>
<line x1="160.4" y1="621.3" x2="165.2" y2="621.3" stroke="#000" stroke-width="1.2"/>
<text x="159.7" y="624.6" font-size="9" font-weight="bold" text-anchor="end">2.5</text>
<line x1="187.6" y1="737.0" x2="187.6" y2="741.4" stroke="#000" stroke-width="1.1"/>
<line x1="220.9" y1="737.0" x2="220.9" y2="741.4" stroke="#000" stroke-width="1.1"/>
<path d="M187.6,628.5V624.3H221.4V628.5" fill="none" stroke="#000" stroke-width="1.3"/>
<text x="203.8" y="622.2" font-size="8.5" font-weight="bold" text-anchor="middle">**</text>
<text x="187.6" y="751.2" font-size="9" font-weight="bold" text-anchor="middle" textLength="31.5" lengthAdjust="spacingAndGlyphs">Control</text>
<text x="220.9" y="751.2" font-size="9" font-weight="bold" text-anchor="middle" textLength="27.3" lengthAdjust="spacingAndGlyphs">MDMX</text>
<text x="141.3" y="679.1" font-size="9.7" font-weight="bold" text-anchor="middle" textLength="89.2" lengthAdjust="spacingAndGlyphs" transform="rotate(-90 141.3 679.1)">Reletive A TP Levels</text>
<rect x="301.4" y="679.4" width="21.4" height="57.6" fill="#000"/>
<line x1="345.1" y1="650.0" x2="345.1" y2="641.4" stroke="#000" stroke-width="1.1"/>
<line x1="339.3" y1="641.4" x2="350.3" y2="641.4" stroke="#000" stroke-width="1.1"/>
<rect x="335.3" y="650.7" width="19.6" height="86.3" fill="#a2a2a6" stroke="#000" stroke-width="1.4"/>
<path d="M290.2,621.3V737.0H367.4" fill="none" stroke="#000" stroke-width="1.4"/>
<line x1="285.4" y1="737.0" x2="290.2" y2="737.0" stroke="#000" stroke-width="1.2"/>
<text x="283.9" y="740.3" font-size="9" font-weight="bold" text-anchor="end">0.0</text>
<line x1="285.4" y1="708.2" x2="290.2" y2="708.2" stroke="#000" stroke-width="1.2"/>
<text x="283.9" y="711.5" font-size="9" font-weight="bold" text-anchor="end">0.5</text>
<line x1="285.4" y1="679.4" x2="290.2" y2="679.4" stroke="#000" stroke-width="1.2"/>
<text x="283.9" y="682.7" font-size="9" font-weight="bold" text-anchor="end">1.0</text>
<line x1="285.4" y1="650.6" x2="290.2" y2="650.6" stroke="#000" stroke-width="1.2"/>
<text x="283.9" y="653.9" font-size="9" font-weight="bold" text-anchor="end">1.5</text>
<line x1="285.4" y1="621.8" x2="290.2" y2="621.8" stroke="#000" stroke-width="1.2"/>
<text x="283.9" y="625.1" font-size="9" font-weight="bold" text-anchor="end">2.0</text>
<line x1="312.9" y1="737.0" x2="312.9" y2="741.4" stroke="#000" stroke-width="1.1"/>
<line x1="344.9" y1="737.0" x2="344.9" y2="741.4" stroke="#000" stroke-width="1.1"/>
<path d="M311.8,626.6V622.4H345.2V626.6" fill="none" stroke="#000" stroke-width="1.3"/>
<text x="328.0" y="620.7" font-size="8.5" font-weight="bold" text-anchor="middle">*</text>
<text x="312.9" y="751.2" font-size="9" font-weight="bold" text-anchor="middle" textLength="31.5" lengthAdjust="spacingAndGlyphs">Control</text>
<text x="344.9" y="751.2" font-size="9" font-weight="bold" text-anchor="middle" textLength="27.3" lengthAdjust="spacingAndGlyphs">MDMX</text>
<text x="265.5" y="679.4" font-size="9.7" font-weight="bold" text-anchor="middle" textLength="124.4" lengthAdjust="spacingAndGlyphs" transform="rotate(-90 265.5 679.4)">Reletive Lactate Production</text>
<rect x="59.8" y="883.8" width="22.8" height="47.6" fill="#000"/>
<line x1="105.6" y1="860.0" x2="105.6" y2="840.5" stroke="#000" stroke-width="1.1"/>
<line x1="98.3" y1="840.5" x2="111.0" y2="840.5" stroke="#000" stroke-width="1.1"/>
<rect x="95.6" y="860.7" width="19.9" height="70.7" fill="#a2a2a6" stroke="#000" stroke-width="1.4"/>
<path d="M48.4,811.9V931.4H129.0" fill="none" stroke="#000" stroke-width="1.4"/>
<line x1="43.6" y1="931.4" x2="48.4" y2="931.4" stroke="#000" stroke-width="1.2"/>
<text x="42.1" y="934.7" font-size="9" font-weight="bold" text-anchor="end">0.0</text>
<line x1="43.6" y1="907.6" x2="48.4" y2="907.6" stroke="#000" stroke-width="1.2"/>
<text x="42.1" y="910.9" font-size="9" font-weight="bold" text-anchor="end">0.5</text>
<line x1="43.6" y1="883.8" x2="48.4" y2="883.8" stroke="#000" stroke-width="1.2"/>
<text x="42.1" y="887.1" font-size="9" font-weight="bold" text-anchor="end">1.0</text>
<line x1="43.6" y1="860.0" x2="48.4" y2="860.0" stroke="#000" stroke-width="1.2"/>
<text x="42.1" y="863.3" font-size="9" font-weight="bold" text-anchor="end">1.5</text>
<line x1="43.6" y1="836.2" x2="48.4" y2="836.2" stroke="#000" stroke-width="1.2"/>
<text x="42.1" y="839.5" font-size="9" font-weight="bold" text-anchor="end">2.0</text>
<line x1="43.6" y1="812.4" x2="48.4" y2="812.4" stroke="#000" stroke-width="1.2"/>
<text x="42.1" y="815.7" font-size="9" font-weight="bold" text-anchor="end">2.5</text>
<line x1="70.7" y1="931.4" x2="70.7" y2="935.8" stroke="#000" stroke-width="1.1"/>
<line x1="105.8" y1="931.4" x2="105.8" y2="935.8" stroke="#000" stroke-width="1.1"/>
<path d="M71.2,818.1V813.7H106.3V818.1" fill="none" stroke="#000" stroke-width="1.3"/>
<text x="88.3" y="811.2" font-size="8.5" font-weight="bold" text-anchor="middle">**</text>
<text x="70.7" y="946.0" font-size="9" font-weight="bold" text-anchor="middle" textLength="31.5" lengthAdjust="spacingAndGlyphs">Control</text>
<text x="105.8" y="946.0" font-size="9" font-weight="bold" text-anchor="middle" textLength="27.3" lengthAdjust="spacingAndGlyphs">MDMX</text>
<text x="23.8" y="871.9" font-size="9.7" font-weight="bold" text-anchor="middle" textLength="143.3" lengthAdjust="spacingAndGlyphs" transform="rotate(-90 23.8 871.9)">Reletive Glucose Consumption</text>
<rect x="179.5" y="883.0" width="22.4" height="47.4" fill="#000"/>
<line x1="225.3" y1="842.2" x2="225.3" y2="825.1" stroke="#000" stroke-width="1.1"/>
<line x1="219.9" y1="825.1" x2="230.9" y2="825.1" stroke="#000" stroke-width="1.1"/>
<rect x="215.3" y="842.9" width="20.0" height="87.5" fill="#a2a2a6" stroke="#000" stroke-width="1.4"/>
<path d="M168.3,811.3V930.4H248.4" fill="none" stroke="#000" stroke-width="1.4"/>
<line x1="163.5" y1="930.4" x2="168.3" y2="930.4" stroke="#000" stroke-width="1.2"/>
<text x="162.0" y="933.7" font-size="9" font-weight="bold" text-anchor="end">0.0</text>
<line x1="163.5" y1="906.7" x2="168.3" y2="906.7" stroke="#000" stroke-width="1.2"/>
<text x="162.0" y="910.0" font-size="9" font-weight="bold" text-anchor="end">0.5</text>
<line x1="163.5" y1="883.0" x2="168.3" y2="883.0" stroke="#000" stroke-width="1.2"/>
<text x="162.0" y="886.3" font-size="9" font-weight="bold" text-anchor="end">1.0</text>
<line x1="163.5" y1="859.2" x2="168.3" y2="859.2" stroke="#000" stroke-width="1.2"/>
<text x="162.0" y="862.5" font-size="9" font-weight="bold" text-anchor="end">1.5</text>
<line x1="163.5" y1="835.5" x2="168.3" y2="835.5" stroke="#000" stroke-width="1.2"/>
<text x="162.0" y="838.8" font-size="9" font-weight="bold" text-anchor="end">2.0</text>
<line x1="163.5" y1="811.8" x2="168.3" y2="811.8" stroke="#000" stroke-width="1.2"/>
<text x="162.0" y="815.1" font-size="9" font-weight="bold" text-anchor="end">2.5</text>
<line x1="190.2" y1="930.4" x2="190.2" y2="934.8" stroke="#000" stroke-width="1.1"/>
<line x1="225.0" y1="930.4" x2="225.0" y2="934.8" stroke="#000" stroke-width="1.1"/>
<path d="M190.5,817.5V813.2H225.2V817.5" fill="none" stroke="#000" stroke-width="1.3"/>
<text x="207.9" y="810.6" font-size="8.5" font-weight="bold" text-anchor="middle">**</text>
<text x="190.2" y="945.0" font-size="9" font-weight="bold" text-anchor="middle" textLength="31.5" lengthAdjust="spacingAndGlyphs">Control</text>
<text x="225.0" y="945.0" font-size="9" font-weight="bold" text-anchor="middle" textLength="27.3" lengthAdjust="spacingAndGlyphs">MDMX</text>
<text x="142.6" y="871.1" font-size="9.7" font-weight="bold" text-anchor="middle" textLength="91.7" lengthAdjust="spacingAndGlyphs" transform="rotate(-90 142.6 871.1)">Reletive A TP Levels</text>
<rect x="306.1" y="869.7" width="21.8" height="59.8" fill="#000"/>
<line x1="351.1" y1="854.8" x2="351.1" y2="841.0" stroke="#000" stroke-width="1.1"/>
<line x1="346.5" y1="841.0" x2="357.0" y2="841.0" stroke="#000" stroke-width="1.1"/>
<rect x="341.2" y="855.5" width="19.8" height="74.0" fill="#a2a2a6" stroke="#000" stroke-width="1.4"/>
<path d="M294.7,809.4V929.5H374.0" fill="none" stroke="#000" stroke-width="1.4"/>
<line x1="289.9" y1="929.5" x2="294.7" y2="929.5" stroke="#000" stroke-width="1.2"/>
<text x="288.3" y="932.8" font-size="9" font-weight="bold" text-anchor="end">0.0</text>
<line x1="289.9" y1="899.6" x2="294.7" y2="899.6" stroke="#000" stroke-width="1.2"/>
<text x="288.3" y="902.9" font-size="9" font-weight="bold" text-anchor="end">0.5</text>
<line x1="289.9" y1="869.7" x2="294.7" y2="869.7" stroke="#000" stroke-width="1.2"/>
<text x="288.3" y="873.0" font-size="9" font-weight="bold" text-anchor="end">1.0</text>
<line x1="289.9" y1="839.8" x2="294.7" y2="839.8" stroke="#000" stroke-width="1.2"/>
<text x="288.3" y="843.1" font-size="9" font-weight="bold" text-anchor="end">1.5</text>
<line x1="289.9" y1="809.9" x2="294.7" y2="809.9" stroke="#000" stroke-width="1.2"/>
<text x="288.3" y="813.2" font-size="9" font-weight="bold" text-anchor="end">2.0</text>
<line x1="316.9" y1="929.5" x2="316.9" y2="933.9" stroke="#000" stroke-width="1.1"/>
<line x1="351.0" y1="929.5" x2="351.0" y2="933.9" stroke="#000" stroke-width="1.1"/>
<path d="M316.7,816.6V812.4H351.7V816.6" fill="none" stroke="#000" stroke-width="1.3"/>
<text x="333.8" y="809.2" font-size="8.5" font-weight="bold" text-anchor="middle">*</text>
<text x="316.9" y="944.1" font-size="9" font-weight="bold" text-anchor="middle" textLength="31.5" lengthAdjust="spacingAndGlyphs">Control</text>
<text x="351.0" y="944.1" font-size="9" font-weight="bold" text-anchor="middle" textLength="27.3" lengthAdjust="spacingAndGlyphs">MDMX</text>
<text x="269.7" y="869.7" font-size="9.7" font-weight="bold" text-anchor="middle" textLength="129.1" lengthAdjust="spacingAndGlyphs" transform="rotate(-90 269.7 869.7)">Reletive Lactate Production</text>
<text x="378.0" y="596.8" font-size="16" font-weight="bold">E</text>
<line x1="483.5" y1="618.0" x2="483.5" y2="734.4" stroke="#111" stroke-width="1.5" stroke-dasharray="3,2"/>
<line x1="535.0" y1="616.2" x2="535.0" y2="734.4" stroke="#111" stroke-width="1.5" stroke-dasharray="3,2"/>
<line x1="588.1" y1="617.4" x2="588.1" y2="734.4" stroke="#111" stroke-width="1.2" stroke-dasharray="3,2"/>
<path d="M442.6,607.2V734.4H634.8" fill="none" stroke="#000" stroke-width="1.4"/>
<line x1="438.1" y1="734.4" x2="442.6" y2="734.4" stroke="#000" stroke-width="1.2"/>
<text x="436.9" y="738.0" font-size="10" font-weight="bold" text-anchor="end">0</text>
<line x1="438.1" y1="709.1" x2="442.6" y2="709.1" stroke="#000" stroke-width="1.2"/>
<text x="436.9" y="712.7" font-size="10" font-weight="bold" text-anchor="end">50</text>
<line x1="438.1" y1="683.7" x2="442.6" y2="683.7" stroke="#000" stroke-width="1.2"/>
<text x="436.9" y="687.3" font-size="10" font-weight="bold" text-anchor="end">100</text>
<line x1="438.1" y1="658.4" x2="442.6" y2="658.4" stroke="#000" stroke-width="1.2"/>
<text x="436.9" y="662.0" font-size="10" font-weight="bold" text-anchor="end">150</text>
<line x1="438.1" y1="633.0" x2="442.6" y2="633.0" stroke="#000" stroke-width="1.2"/>
<text x="436.9" y="636.6" font-size="10" font-weight="bold" text-anchor="end">200</text>
<line x1="438.1" y1="607.7" x2="442.6" y2="607.7" stroke="#000" stroke-width="1.2"/>
<text x="436.9" y="611.3" font-size="10" font-weight="bold" text-anchor="end">250</text>
<line x1="442.7" y1="734.4" x2="442.7" y2="738.6" stroke="#000" stroke-width="1.2"/>
<text x="442.7" y="750.2" font-size="10" font-weight="bold" text-anchor="middle">0</text>
<line x1="538.8" y1="734.4" x2="538.8" y2="738.6" stroke="#000" stroke-width="1.2"/>
<text x="538.8" y="750.2" font-size="10" font-weight="bold" text-anchor="middle">50</text>
<line x1="634.8" y1="734.4" x2="634.8" y2="738.6" stroke="#000" stroke-width="1.2"/>
<text x="634.8" y="750.2" font-size="10" font-weight="bold" text-anchor="middle">100</text>
<text x="539.2" y="765.7" font-size="11.6" font-weight="bold" text-anchor="middle" textLength="82.1" lengthAdjust="spacingAndGlyphs">Time (minutes)</text>
<text x="409.3" y="671.0" font-size="12.6" font-weight="bold" text-anchor="middle" textLength="107.6" lengthAdjust="spacingAndGlyphs" transform="rotate(-90 409.3 671.0)">ECAR (mpH/min)</text>
<text x="463.2" y="610.5" font-size="9.6" font-weight="bold" textLength="38.1" lengthAdjust="spacingAndGlyphs">Glucose</text>
<text x="510.6" y="610.5" font-size="9.6" font-weight="bold" textLength="55.4" lengthAdjust="spacingAndGlyphs">Oligomycin</text>
<text x="575.3" y="610.5" font-size="9.6" font-weight="bold" textLength="23.4" lengthAdjust="spacingAndGlyphs">2-DG</text>
<line x1="445.5" y1="719.5" x2="445.5" y2="727.5" stroke="#1a1af2" stroke-width="1.4"/>
<line x1="442.1" y1="719.5" x2="448.9" y2="719.5" stroke="#1a1af2" stroke-width="1.4"/>
<line x1="442.1" y1="727.5" x2="448.9" y2="727.5" stroke="#1a1af2" stroke-width="1.4"/>
<line x1="461.9" y1="719.8" x2="461.9" y2="727.3" stroke="#1a1af2" stroke-width="1.4"/>
<line x1="458.5" y1="719.8" x2="465.3" y2="719.8" stroke="#1a1af2" stroke-width="1.4"/>
<line x1="458.5" y1="727.3" x2="465.3" y2="727.3" stroke="#1a1af2" stroke-width="1.4"/>
<line x1="478.5" y1="719.8" x2="478.5" y2="727.3" stroke="#1a1af2" stroke-width="1.4"/>
<line x1="475.1" y1="719.8" x2="481.9" y2="719.8" stroke="#1a1af2" stroke-width="1.4"/>
<line x1="475.1" y1="727.3" x2="481.9" y2="727.3" stroke="#1a1af2" stroke-width="1.4"/>
<line x1="495.2" y1="676.4" x2="495.2" y2="706.4" stroke="#1a1af2" stroke-width="1.4"/>
<line x1="491.8" y1="676.4" x2="498.6" y2="676.4" stroke="#1a1af2" stroke-width="1.4"/>
<line x1="491.8" y1="706.4" x2="498.6" y2="706.4" stroke="#1a1af2" stroke-width="1.4"/>
<line x1="511.5" y1="673.1" x2="511.5" y2="701.7" stroke="#1a1af2" stroke-width="1.4"/>
<line x1="508.1" y1="673.1" x2="514.9" y2="673.1" stroke="#1a1af2" stroke-width="1.4"/>
<line x1="508.1" y1="701.7" x2="514.9" y2="701.7" stroke="#1a1af2" stroke-width="1.4"/>
<line x1="527.9" y1="670.6" x2="527.9" y2="699.3" stroke="#1a1af2" stroke-width="1.4"/>
<line x1="524.5" y1="670.6" x2="531.3" y2="670.6" stroke="#1a1af2" stroke-width="1.4"/>
<line x1="524.5" y1="699.3" x2="531.3" y2="699.3" stroke="#1a1af2" stroke-width="1.4"/>
<line x1="544.9" y1="637.9" x2="544.9" y2="689.8" stroke="#1a1af2" stroke-width="1.4"/>
<line x1="541.5" y1="637.9" x2="548.3" y2="637.9" stroke="#1a1af2" stroke-width="1.4"/>
<line x1="541.5" y1="689.8" x2="548.3" y2="689.8" stroke="#1a1af2" stroke-width="1.4"/>
<line x1="561.2" y1="650.5" x2="561.2" y2="690.3" stroke="#1a1af2" stroke-width="1.4"/>
<line x1="557.8" y1="650.5" x2="564.6" y2="650.5" stroke="#1a1af2" stroke-width="1.4"/>
<line x1="557.8" y1="690.3" x2="564.6" y2="690.3" stroke="#1a1af2" stroke-width="1.4"/>
<line x1="578.0" y1="646.1" x2="578.0" y2="695.6" stroke="#1a1af2" stroke-width="1.4"/>
<line x1="574.6" y1="646.1" x2="581.4" y2="646.1" stroke="#1a1af2" stroke-width="1.4"/>
<line x1="574.6" y1="695.6" x2="581.4" y2="695.6" stroke="#1a1af2" stroke-width="1.4"/>
<line x1="594.4" y1="712.0" x2="594.4" y2="725.3" stroke="#1a1af2" stroke-width="1.4"/>
<line x1="591.0" y1="712.0" x2="597.8" y2="712.0" stroke="#1a1af2" stroke-width="1.4"/>
<line x1="591.0" y1="725.3" x2="597.8" y2="725.3" stroke="#1a1af2" stroke-width="1.4"/>
<line x1="611.0" y1="720.9" x2="611.0" y2="727.6" stroke="#1a1af2" stroke-width="1.4"/>
<line x1="607.6" y1="720.9" x2="614.4" y2="720.9" stroke="#1a1af2" stroke-width="1.4"/>
<line x1="607.6" y1="727.6" x2="614.4" y2="727.6" stroke="#1a1af2" stroke-width="1.4"/>
<line x1="627.8" y1="721.3" x2="627.8" y2="727.6" stroke="#1a1af2" stroke-width="1.4"/>
<line x1="624.4" y1="721.3" x2="631.2" y2="721.3" stroke="#1a1af2" stroke-width="1.4"/>
<line x1="624.4" y1="727.6" x2="631.2" y2="727.6" stroke="#1a1af2" stroke-width="1.4"/>
<line x1="495.2" y1="629.7" x2="495.2" y2="636.3" stroke="#f61f24" stroke-width="1.4"/>
<line x1="492.2" y1="629.7" x2="498.2" y2="629.7" stroke="#f61f24" stroke-width="1.4"/>
<line x1="492.2" y1="636.3" x2="498.2" y2="636.3" stroke="#f61f24" stroke-width="1.4"/>
<line x1="511.5" y1="636.0" x2="511.5" y2="649.4" stroke="#f61f24" stroke-width="1.4"/>
<line x1="508.5" y1="636.0" x2="514.5" y2="636.0" stroke="#f61f24" stroke-width="1.4"/>
<line x1="508.5" y1="649.4" x2="514.5" y2="649.4" stroke="#f61f24" stroke-width="1.4"/>
<line x1="527.9" y1="643.6" x2="527.9" y2="653.5" stroke="#f61f24" stroke-width="1.4"/>
<line x1="524.9" y1="643.6" x2="530.9" y2="643.6" stroke="#f61f24" stroke-width="1.4"/>
<line x1="524.9" y1="653.5" x2="530.9" y2="653.5" stroke="#f61f24" stroke-width="1.4"/>
<line x1="578.0" y1="621.0" x2="578.0" y2="628.5" stroke="#f61f24" stroke-width="1.4"/>
<line x1="575.0" y1="621.0" x2="581.0" y2="621.0" stroke="#f61f24" stroke-width="1.4"/>
<line x1="575.0" y1="628.5" x2="581.0" y2="628.5" stroke="#f61f24" stroke-width="1.4"/>
<line x1="561.2" y1="623.5" x2="561.2" y2="627.5" stroke="#f61f24" stroke-width="1.4"/>
<line x1="558.2" y1="623.5" x2="564.2" y2="623.5" stroke="#f61f24" stroke-width="1.4"/>
<line x1="558.2" y1="627.5" x2="564.2" y2="627.5" stroke="#f61f24" stroke-width="1.4"/>
<polyline points="445.8,703.9 461.9,703.9 478.2,703.9 495.2,633.4 511.5,643.3 527.9,648.7 544.9,630.9 561.2,625.6 578.0,624.8 594.4,685.1 611.0,699.8 627.8,703.8" fill="none" stroke="#f61f24" stroke-width="1.5"/>
<polyline points="445.5,723.6 461.9,723.6 478.5,723.6 495.2,691.0 511.5,687.4 527.9,685.2 544.9,663.6 561.2,670.4 578.0,671.1 594.4,718.5 611.0,724.8 627.8,724.8" fill="none" stroke="#1a1af2" stroke-width="1.5"/>
<rect x="442.6" y="700.7" width="6.4" height="6.4" fill="#f61f24"/>
<rect x="458.7" y="700.7" width="6.4" height="6.4" fill="#f61f24"/>
<rect x="475.0" y="700.7" width="6.4" height="6.4" fill="#f61f24"/>
<rect x="492.0" y="630.2" width="6.4" height="6.4" fill="#f61f24"/>
<rect x="508.3" y="640.1" width="6.4" height="6.4" fill="#f61f24"/>
<rect x="524.7" y="645.5" width="6.4" height="6.4" fill="#f61f24"/>
<rect x="541.7" y="627.7" width="6.4" height="6.4" fill="#f61f24"/>
<rect x="558.0" y="622.4" width="6.4" height="6.4" fill="#f61f24"/>
<rect x="574.8" y="621.6" width="6.4" height="6.4" fill="#f61f24"/>
<rect x="591.2" y="681.9" width="6.4" height="6.4" fill="#f61f24"/>
<rect x="607.8" y="696.6" width="6.4" height="6.4" fill="#f61f24"/>
<rect x="624.6" y="700.6" width="6.4" height="6.4" fill="#f61f24"/>
<circle cx="445.5" cy="723.6" r="2.8" fill="#1a1af2"/>
<circle cx="461.9" cy="723.6" r="2.8" fill="#1a1af2"/>
<circle cx="478.5" cy="723.6" r="2.8" fill="#1a1af2"/>
<circle cx="495.2" cy="691.0" r="2.8" fill="#1a1af2"/>
<circle cx="511.5" cy="687.4" r="2.8" fill="#1a1af2"/>
<circle cx="527.9" cy="685.2" r="2.8" fill="#1a1af2"/>
<circle cx="544.9" cy="663.6" r="2.8" fill="#1a1af2"/>
<circle cx="561.2" cy="670.4" r="2.8" fill="#1a1af2"/>
<circle cx="578.0" cy="671.1" r="2.8" fill="#1a1af2"/>
<circle cx="594.4" cy="718.5" r="2.8" fill="#1a1af2"/>
<circle cx="611.0" cy="724.8" r="2.8" fill="#1a1af2"/>
<circle cx="627.8" cy="724.8" r="2.8" fill="#1a1af2"/>
<line x1="618.0" y1="624.4" x2="632.5" y2="624.4" stroke="#1a1af2" stroke-width="1.5"/>
<circle cx="625.2" cy="624.4" r="2.6" fill="#1a1af2"/>
<line x1="618.0" y1="643.5" x2="632.5" y2="643.5" stroke="#f61f24" stroke-width="1.5"/>
<rect x="622.4" y="640.6" width="5.8" height="5.8" fill="#f61f24"/>
<text x="641.1" y="628.3" font-size="11" font-weight="bold" textLength="39.9" lengthAdjust="spacingAndGlyphs">Control</text>
<text x="641.1" y="647.4" font-size="11" font-weight="bold" textLength="34.6" lengthAdjust="spacingAndGlyphs">MDMX</text>
<line x1="486.1" y1="806.4" x2="486.1" y2="911.5" stroke="#111" stroke-width="1.2" stroke-dasharray="3,2"/>
<line x1="532.8" y1="804.5" x2="532.8" y2="911.5" stroke="#111" stroke-width="1.2" stroke-dasharray="3,2"/>
<line x1="584.8" y1="805.5" x2="584.8" y2="911.5" stroke="#111" stroke-width="1.8" stroke-dasharray="3,2"/>
<path d="M444.3,782.7V911.5H636.8" fill="none" stroke="#000" stroke-width="1.4"/>
<line x1="439.8" y1="911.5" x2="444.3" y2="911.5" stroke="#000" stroke-width="1.2"/>
<text x="438.3" y="915.1" font-size="10" font-weight="bold" text-anchor="end">0</text>
<line x1="439.8" y1="885.8" x2="444.3" y2="885.8" stroke="#000" stroke-width="1.2"/>
<text x="438.3" y="889.4" font-size="10" font-weight="bold" text-anchor="end">50</text>
<line x1="439.8" y1="860.2" x2="444.3" y2="860.2" stroke="#000" stroke-width="1.2"/>
<text x="438.3" y="863.8" font-size="10" font-weight="bold" text-anchor="end">100</text>
<line x1="439.8" y1="834.5" x2="444.3" y2="834.5" stroke="#000" stroke-width="1.2"/>
<text x="438.3" y="838.1" font-size="10" font-weight="bold" text-anchor="end">150</text>
<line x1="439.8" y1="808.9" x2="444.3" y2="808.9" stroke="#000" stroke-width="1.2"/>
<text x="438.3" y="812.5" font-size="10" font-weight="bold" text-anchor="end">200</text>
<line x1="439.8" y1="783.2" x2="444.3" y2="783.2" stroke="#000" stroke-width="1.2"/>
<text x="438.3" y="786.8" font-size="10" font-weight="bold" text-anchor="end">250</text>
<line x1="444.2" y1="911.5" x2="444.2" y2="915.7" stroke="#000" stroke-width="1.2"/>
<text x="444.2" y="926.9" font-size="10" font-weight="bold" text-anchor="middle">0</text>
<line x1="540.2" y1="911.5" x2="540.2" y2="915.7" stroke="#000" stroke-width="1.2"/>
<text x="540.2" y="926.9" font-size="10" font-weight="bold" text-anchor="middle">50</text>
<line x1="636.2" y1="911.5" x2="636.2" y2="915.7" stroke="#000" stroke-width="1.2"/>
<text x="636.2" y="926.9" font-size="10" font-weight="bold" text-anchor="middle">100</text>
<text x="540.8" y="941.6" font-size="10.6" font-weight="bold" text-anchor="middle" textLength="75.2" lengthAdjust="spacingAndGlyphs">Time (minutes)</text>
<text x="412.0" y="845.8" font-size="12.6" font-weight="bold" text-anchor="middle" textLength="159" lengthAdjust="spacingAndGlyphs" transform="rotate(-90 412.0 845.8)">OCR (pmol/min/Norm. Unit)</text>
<text x="463.5" y="801.8" font-size="9.6" font-weight="bold" textLength="50.2" lengthAdjust="spacingAndGlyphs">Oligomycin</text>
<text x="521.2" y="801.8" font-size="9.6" font-weight="bold" textLength="24.1" lengthAdjust="spacingAndGlyphs">FCCP</text>
<text x="559.3" y="790.8" font-size="9.6" font-weight="bold" textLength="49.7" lengthAdjust="spacingAndGlyphs">Rotenone +</text>
<text x="559.3" y="801.8" font-size="9.6" font-weight="bold" textLength="53.0" lengthAdjust="spacingAndGlyphs">Antimycin A</text>
<line x1="578.8" y1="844.3" x2="578.8" y2="849.3" stroke="#1a1af2" stroke-width="1.4"/>
<line x1="575.4" y1="844.3" x2="582.2" y2="844.3" stroke="#1a1af2" stroke-width="1.4"/>
<line x1="575.4" y1="849.3" x2="582.2" y2="849.3" stroke="#1a1af2" stroke-width="1.4"/>
<line x1="545.6" y1="813.8" x2="545.6" y2="822.7" stroke="#f61f24" stroke-width="1.4"/>
<line x1="542.6" y1="813.8" x2="548.6" y2="813.8" stroke="#f61f24" stroke-width="1.4"/>
<line x1="542.6" y1="822.7" x2="548.6" y2="822.7" stroke="#f61f24" stroke-width="1.4"/>
<line x1="562.4" y1="811.7" x2="562.4" y2="825.5" stroke="#f61f24" stroke-width="1.4"/>
<line x1="559.4" y1="811.7" x2="565.4" y2="811.7" stroke="#f61f24" stroke-width="1.4"/>
<line x1="559.4" y1="825.5" x2="565.4" y2="825.5" stroke="#f61f24" stroke-width="1.4"/>
<line x1="578.8" y1="811.0" x2="578.8" y2="824.6" stroke="#f61f24" stroke-width="1.4"/>
<line x1="575.8" y1="811.0" x2="581.8" y2="811.0" stroke="#f61f24" stroke-width="1.4"/>
<line x1="575.8" y1="824.6" x2="581.8" y2="824.6" stroke="#f61f24" stroke-width="1.4"/>
<line x1="446.4" y1="850.5" x2="446.4" y2="857.5" stroke="#f61f24" stroke-width="1.4"/>
<line x1="443.4" y1="850.5" x2="449.4" y2="850.5" stroke="#f61f24" stroke-width="1.4"/>
<line x1="443.4" y1="857.5" x2="449.4" y2="857.5" stroke="#f61f24" stroke-width="1.4"/>
<line x1="479.5" y1="849.5" x2="479.5" y2="855.5" stroke="#f61f24" stroke-width="1.4"/>
<line x1="476.5" y1="849.5" x2="482.5" y2="849.5" stroke="#f61f24" stroke-width="1.4"/>
<line x1="476.5" y1="855.5" x2="482.5" y2="855.5" stroke="#f61f24" stroke-width="1.4"/>
<line x1="529.3" y1="872.5" x2="529.3" y2="878.5" stroke="#f61f24" stroke-width="1.4"/>
<line x1="526.3" y1="872.5" x2="532.3" y2="872.5" stroke="#f61f24" stroke-width="1.4"/>
<line x1="526.3" y1="878.5" x2="532.3" y2="878.5" stroke="#f61f24" stroke-width="1.4"/>
<polyline points="446.4,853.8 463.2,853.1 479.5,852.4 496.6,883.9 512.9,879.9 529.3,875.3 545.6,818.5 562.4,818.7 578.8,818.5 595.5,895.0 612.0,893.4 628.5,894.4" fill="none" stroke="#f61f24" stroke-width="1.5"/>
<polyline points="446.4,868.7 463.2,868.7 479.5,867.6 496.6,890.4 512.9,888.1 529.3,884.6 545.6,846.1 562.4,846.8 578.8,846.8 595.5,898.7 612.0,898.0 628.5,898.7" fill="none" stroke="#1a1af2" stroke-width="1.5"/>
<rect x="443.2" y="850.6" width="6.4" height="6.4" fill="#f61f24"/>
<rect x="460.0" y="849.9" width="6.4" height="6.4" fill="#f61f24"/>
<rect x="476.3" y="849.2" width="6.4" height="6.4" fill="#f61f24"/>
<rect x="493.4" y="880.7" width="6.4" height="6.4" fill="#f61f24"/>
<rect x="509.7" y="876.7" width="6.4" height="6.4" fill="#f61f24"/>
<rect x="526.1" y="872.1" width="6.4" height="6.4" fill="#f61f24"/>
<rect x="542.4" y="815.3" width="6.4" height="6.4" fill="#f61f24"/>
<rect x="559.2" y="815.5" width="6.4" height="6.4" fill="#f61f24"/>
<rect x="575.6" y="815.3" width="6.4" height="6.4" fill="#f61f24"/>
<rect x="592.3" y="891.8" width="6.4" height="6.4" fill="#f61f24"/>
<rect x="608.8" y="890.2" width="6.4" height="6.4" fill="#f61f24"/>
<rect x="625.3" y="891.2" width="6.4" height="6.4" fill="#f61f24"/>
<circle cx="446.4" cy="868.7" r="2.8" fill="#1a1af2"/>
<circle cx="463.2" cy="868.7" r="2.8" fill="#1a1af2"/>
<circle cx="479.5" cy="867.6" r="2.8" fill="#1a1af2"/>
<circle cx="496.6" cy="890.4" r="2.8" fill="#1a1af2"/>
<circle cx="512.9" cy="888.1" r="2.8" fill="#1a1af2"/>
<circle cx="529.3" cy="884.6" r="2.8" fill="#1a1af2"/>
<circle cx="545.6" cy="846.1" r="2.8" fill="#1a1af2"/>
<circle cx="562.4" cy="846.8" r="2.8" fill="#1a1af2"/>
<circle cx="578.8" cy="846.8" r="2.8" fill="#1a1af2"/>
<circle cx="595.5" cy="898.7" r="2.8" fill="#1a1af2"/>
<circle cx="612.0" cy="898.0" r="2.8" fill="#1a1af2"/>
<circle cx="628.5" cy="898.7" r="2.8" fill="#1a1af2"/>
<line x1="620.4" y1="822.9" x2="634.2" y2="822.9" stroke="#1a1af2" stroke-width="1.5"/>
<circle cx="627.3" cy="822.9" r="2.6" fill="#1a1af2"/>
<line x1="620.4" y1="840.0" x2="634.2" y2="840.0" stroke="#f61f24" stroke-width="1.5"/>
<rect x="624.4" y="837.1" width="5.8" height="5.8" fill="#f61f24"/>
<text x="641.6" y="826.8" font-size="10.5" font-weight="bold" textLength="37.1" lengthAdjust="spacingAndGlyphs">Control</text>
<text x="641.6" y="843.9" font-size="10.5" font-weight="bold" textLength="32.2" lengthAdjust="spacingAndGlyphs">MDMX</text>
</svg></body></html>
